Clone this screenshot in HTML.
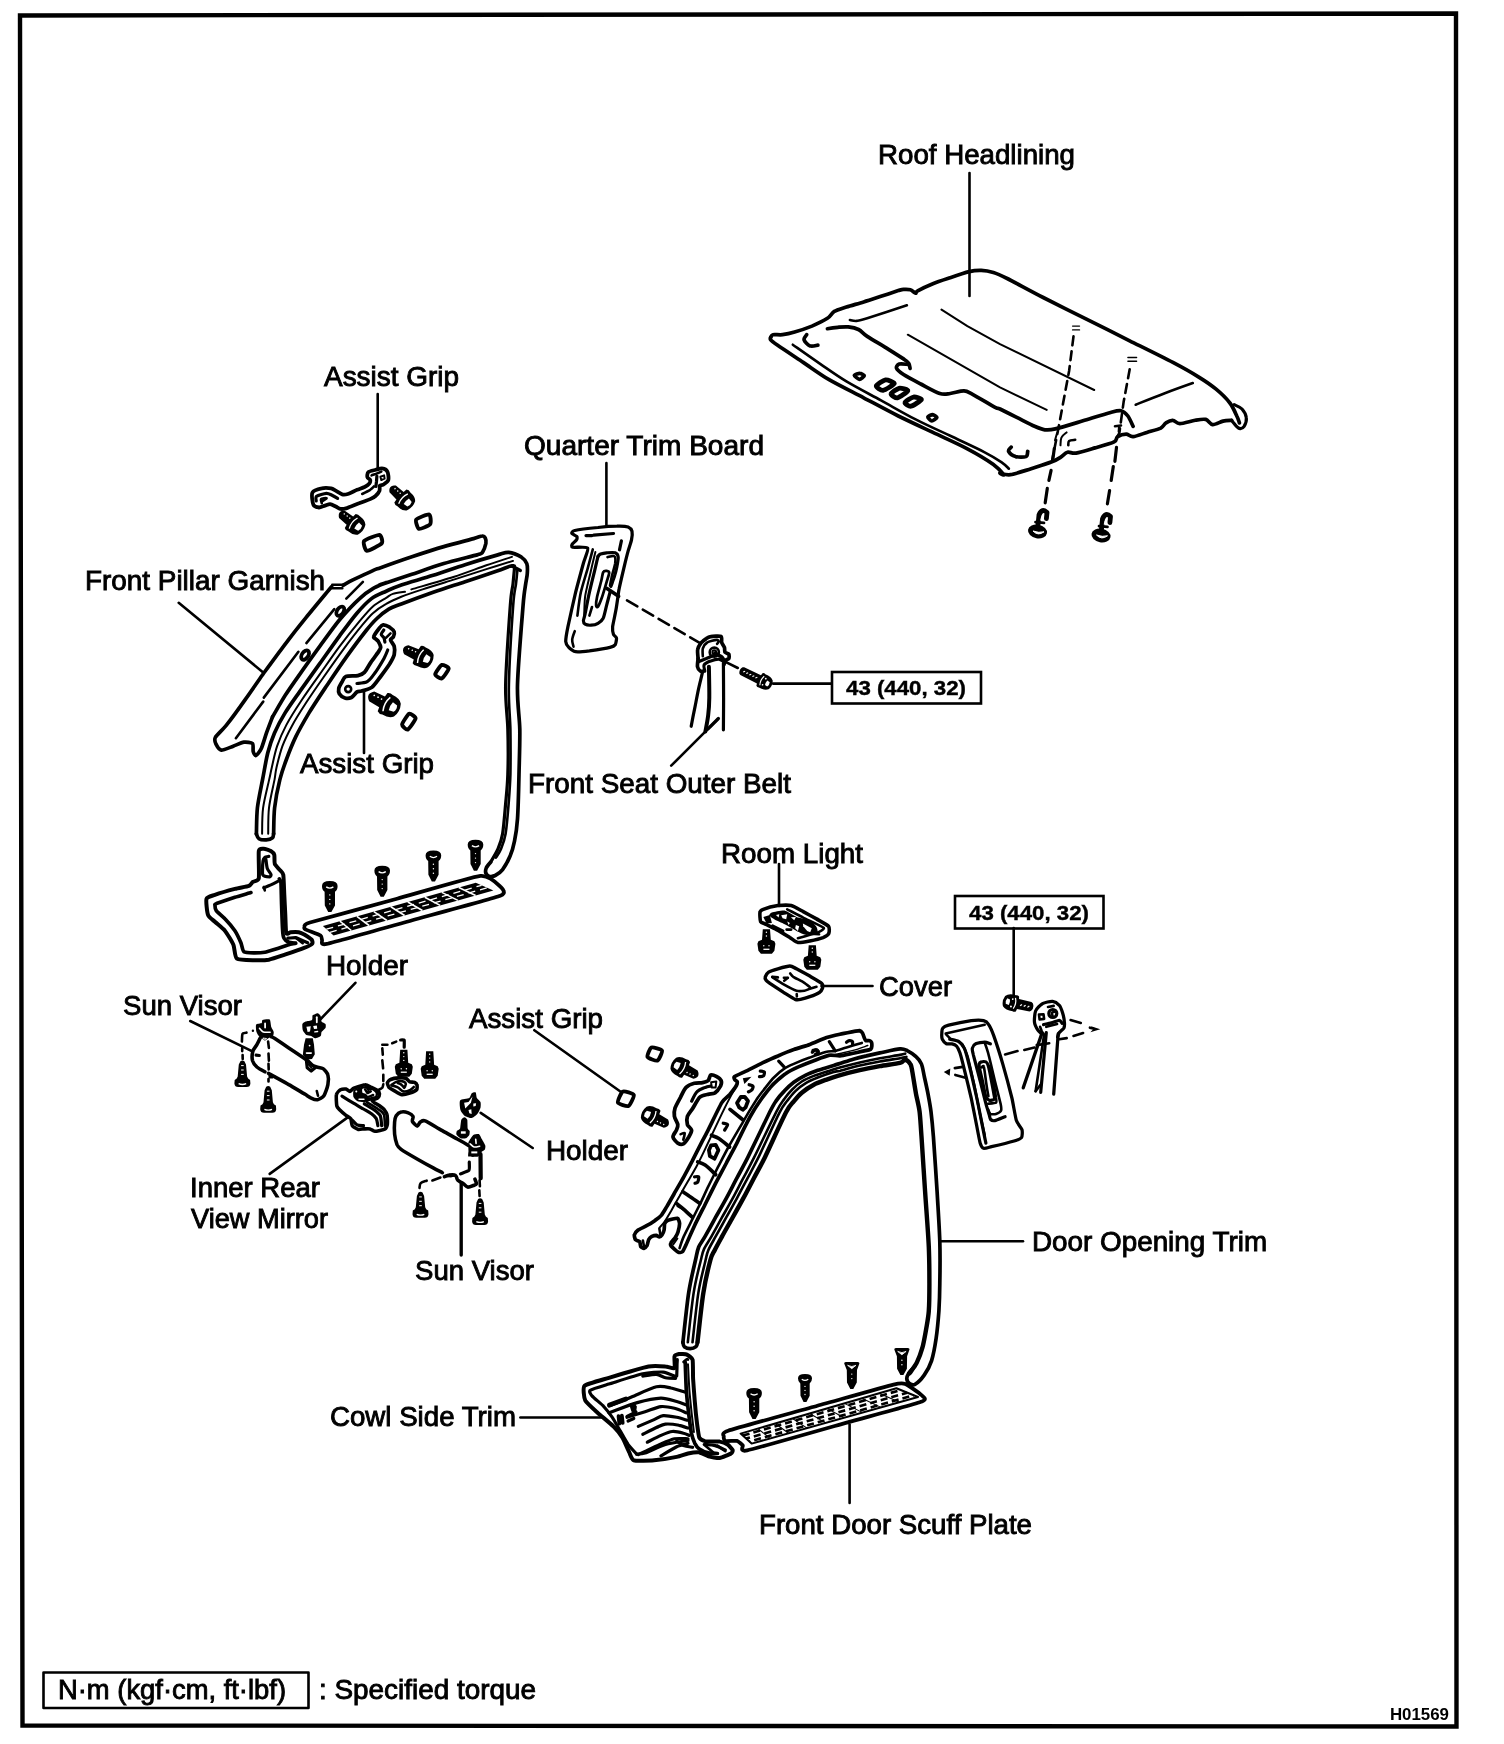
<!DOCTYPE html>
<html><head><meta charset="utf-8"><title>Interior trim components</title>
<style>
html,body{margin:0;padding:0;background:#fff;}
body{width:1504px;height:1744px;overflow:hidden;font-family:"Liberation Sans",sans-serif;}
svg{display:block;filter:grayscale(1);}
text{font-family:"Liberation Sans",sans-serif;fill:#000;}
.t{font-size:27.5px;stroke:#000;stroke-width:0.9px;paint-order:stroke;}
.b{font-weight:bold;font-size:20px;stroke:#000;stroke-width:0.4px;}
.k{fill:none;stroke:#000;stroke-linecap:round;stroke-linejoin:round;}
.k4{stroke-width:4.4;} .k3{stroke-width:3.7;} .k25{stroke-width:3.2;} .k2{stroke-width:2.6;} .k15{stroke-width:2.0;} .k1{stroke-width:1.4;}
.f{fill:#000;stroke:none;}
.w{fill:#fff;}
</style></head><body>
<svg width="1504" height="1744" viewBox="0 0 1504 1744">
<rect x="0" y="0" width="1504" height="1744" fill="#fff"/>
<!-- 00_frame.svg -->
<g class="k">
<path class="k4" d="M20 15.5 L1456 13.5 L1456.5 1726.5 L22.5 1725.5 Z" stroke-linejoin="miter"/>
<rect class="k2" x="43.5" y="1672.5" width="265" height="35.5"/>
<rect class="k2" x="832" y="672" width="149" height="31.5" stroke-linejoin="miter"/>
<rect class="k2" x="955" y="896" width="148.5" height="32.5" stroke-linejoin="miter"/>
</g>

<!-- 01_text.svg -->
<g opacity="0.999">
<text class="t" x="878.0" y="164" textLength="197.0" lengthAdjust="spacingAndGlyphs">Roof Headlining</text>
<text class="t" x="324.0" y="386" textLength="135.0" lengthAdjust="spacingAndGlyphs">Assist Grip</text>
<text class="t" x="524.0" y="455" textLength="240.0" lengthAdjust="spacingAndGlyphs">Quarter Trim Board</text>
<text class="t" x="85.0" y="590" textLength="240.1" lengthAdjust="spacingAndGlyphs">Front Pillar Garnish</text>
<text class="t" x="300.0" y="772.5" textLength="134.0" lengthAdjust="spacingAndGlyphs">Assist Grip</text>
<text class="t" x="528.0" y="792.5" textLength="263.0" lengthAdjust="spacingAndGlyphs">Front Seat Outer Belt</text>
<text class="t" x="721.0" y="862.5" textLength="142.0" lengthAdjust="spacingAndGlyphs">Room Light</text>
<text class="t" x="879.0" y="995.5" textLength="73.0" lengthAdjust="spacingAndGlyphs">Cover</text>
<text class="t" x="325.9" y="974.5" textLength="82.1" lengthAdjust="spacingAndGlyphs">Holder</text>
<text class="t" x="123.0" y="1014.5" textLength="119.0" lengthAdjust="spacingAndGlyphs">Sun Visor</text>
<text class="t" x="469.0" y="1027.5" textLength="134.0" lengthAdjust="spacingAndGlyphs">Assist Grip</text>
<text class="t" x="545.9" y="1160" textLength="82.1" lengthAdjust="spacingAndGlyphs">Holder</text>
<text class="t" x="190.0" y="1196.5" textLength="130.0" lengthAdjust="spacingAndGlyphs">Inner Rear</text>
<text class="t" x="191.0" y="1227.5" textLength="137.0" lengthAdjust="spacingAndGlyphs">View Mirror</text>
<text class="t" x="415.0" y="1279.5" textLength="119.0" lengthAdjust="spacingAndGlyphs">Sun Visor</text>
<text class="t" x="1032.0" y="1250.5" textLength="235.1" lengthAdjust="spacingAndGlyphs">Door Opening Trim</text>
<text class="t" x="330.0" y="1425.5" textLength="186.0" lengthAdjust="spacingAndGlyphs">Cowl Side Trim</text>
<text class="t" x="759.0" y="1533.5" textLength="273.0" lengthAdjust="spacingAndGlyphs">Front Door Scuff Plate</text>
<text class="t" x="58.0" y="1698.5" textLength="228.0" lengthAdjust="spacingAndGlyphs">N·m (kgf·cm, ft·lbf)</text>
<text class="t" x="319.0" y="1698.5" textLength="217.0" lengthAdjust="spacingAndGlyphs">: Specified torque</text>
<text class="b" x="846.0" y="695" textLength="120.0" lengthAdjust="spacingAndGlyphs">43 (440, 32)</text>
<text class="b" x="969.0" y="919.5" textLength="120.0" lengthAdjust="spacingAndGlyphs">43 (440, 32)</text>
<text x="1389.9" y="1719.5" font-size="16" font-weight="bold" textLength="59.1" lengthAdjust="spacingAndGlyphs">H01569</text>
</g>

<!-- 02_leaders.svg -->
<g class="k k2">
<path d="M969.5 173 V296"/>
<path d="M377.7 394 V468"/>
<path d="M606.4 463 V526"/>
<path d="M178.7 602.8 L263.5 672.7"/>
<path d="M364 692 V753"/>
<path d="M671.2 765.7 L717.8 719.2"/>
<path d="M773 683.6 H831.4"/>
<path d="M779 864 V906"/>
<path d="M821.5 986 H872.5"/>
<path d="M1013.7 928 V995"/>
<path d="M355.4 982.8 L320.2 1019.5"/>
<path d="M190.2 1021 L252.9 1051.6"/>
<path d="M269.7 1173.9 L347.7 1117.4"/>
<path d="M461.2 1184 V1255" stroke-width="3.36"/>
<path d="M480.7 1112.8 L532.7 1148"/>
<path d="M534.3 1030.2 L621.4 1092.2"/>
<path d="M940 1241.2 H1023"/>
<path d="M520.4 1417.5 H601"/>
<path d="M849.6 1424.5 V1503"/>
</g>

<!-- 10_roof.svg -->
<g>
<path class="k k3" d="M770.7 337.3 C771.1 336.9 771.2 335.1 773 334.7 C774.7 334.3 779.2 335.1 782.5 334.7 C785.7 334.3 790.2 333.4 794.6 332.1 C799 330.8 806.9 328.1 811.9 326.1 C816.8 324 824 320.5 827.4 318.3 C830.8 316.1 831.5 313.1 834.3 311.4 C837.2 309.7 842 308.5 846.4 307 C850.8 305.6 858.5 303.5 863.7 301.9 C868.9 300.3 875.8 298 881 296.3 C886.2 294.6 894.9 291.7 898.3 290.6 C901.7 289.6 901.7 289.5 903.5 289.4 C905.3 289.3 908.6 289.2 910.4 289.8 C912.2 290.3 914.5 293.1 915.6 293.2 C916.7 293.4 915.1 292.2 917.7 290.8 C920.3 289.4 928 285.7 932.9 283.7 C937.7 281.7 944.7 279.5 950.2 277.7 C955.6 275.8 964.5 272.7 969.2 271.6 C973.8 270.5 977.6 270.3 981.3 270.4 C984.9 270.5 989.5 271.3 993.4 272.5 C997.3 273.7 999.7 274.8 1007.2 278.5 C1014.7 282.3 1031.3 291.4 1043.2 297.5 C1055.1 303.6 1073.5 312.7 1086.4 319.1 C1099.4 325.6 1116.7 334.3 1129.7 340.8 C1142.6 347.2 1162.5 356.9 1172.9 362.4 C1183.2 367.8 1192.3 373 1198.8 377.1 C1205.3 381.1 1211.4 385.3 1216.1 389.2 C1220.8 393.1 1226.8 399 1229.9 403 C1233 407 1235.4 413 1236.8 416 C1238.3 418.9 1239 421.8 1239.4 422.9" />
<path class="k k25" d="M1234.2 404.7 C1235.5 405.4 1240 406.9 1242 409 C1244 411.2 1246 414.8 1246.3 417.7 C1246.7 420.6 1245.2 424.5 1244.1 426.3 C1242.9 428.1 1241.1 428.8 1239.4 428.4 C1237.8 428 1235.5 425.1 1234.2 423.7 C1232.9 422.4 1232.1 420.9 1231.6 420.3" />
<path class="k k3" d="M1231.6 420.3 C1230.4 420.4 1225.9 420.5 1223 421.1 C1220.2 421.8 1215.2 424.9 1212.6 424.6 C1210 424.3 1208.3 420.1 1205.7 419.4 C1203.1 418.8 1199.2 419.6 1195.3 420.3 C1191.5 420.9 1183.2 423.7 1179.8 423.7 C1176.4 423.7 1174.9 420.4 1172.9 420.3 C1170.8 420.1 1167.8 421.7 1166 422.9 C1164.1 424 1163.6 426.6 1160.8 428.1 C1157.9 429.5 1151.1 431.1 1146.9 432.4 C1142.8 433.7 1136.2 436.4 1133.1 436.7 C1130 437 1128.5 434.1 1126.2 434.1 C1123.9 434.1 1119.4 435.5 1117.6 436.7 C1115.7 437.9 1117.5 440.2 1114.1 441.9 C1110.7 443.6 1100.8 446.3 1095.1 447.9 C1089.4 449.6 1080.2 452.5 1076.1 453.1 C1071.9 453.8 1069.8 451.6 1067.4 452.3 C1065.1 452.9 1062.8 456 1060.5 457.4 C1058.2 458.9 1056.3 460.1 1051.9 461.8 C1047.5 463.5 1037.3 466.7 1031.1 468.7 C1024.9 470.6 1015 474.1 1010.4 474.7 C1005.7 475.4 1001 473 1000 473 C999 473 1004.7 476 1003.8 474.7 C1002.8 473.4 998.8 468.3 993.4 464.4 C987.9 460.5 976.5 453.6 967.4 448.8 C958.4 444 943.2 437.3 932.9 432.4 C922.5 427.5 908.7 421.1 898.3 416 C887.9 410.8 874.1 403.3 863.7 397.8 C853.4 392.4 838.2 385 829.1 379.7 C820.1 374.3 811 367.6 803.2 362.4 C795.4 357.2 782.2 348.5 777.3 345.1 C772.4 341.7 771.7 341.1 770.7 339.9 C769.7 338.7 770.7 337.7 770.7 337.3" />
<path class="k k2" d="M792.8 344.7 C797.5 348 811.6 358 820.5 364.1 C829.4 370.2 836.4 375.3 846.4 381.4 C856.5 387.4 869.5 394.1 881 400.4 C892.5 406.7 904.1 413.5 915.6 419.4 C927.1 425.3 938.6 430.4 950.2 435.8 C961.7 441.3 976.1 447.8 984.7 452.3 C993.4 456.7 998 459.9 1002 462.6 C1006.1 465.4 1007.8 467.7 1008.9 468.7" />
<path class="k k3" d="M806.7 334.7 C806.2 335.6 803.5 338 804.1 339.9 C804.7 341.8 807.8 345.1 810.1 345.9 C812.4 346.8 816.6 345.2 817.9 345.1" />
<path class="k k3" d="M1011.2 447.1 C1010.8 447.8 1007.9 449.8 1008.6 451.4 C1009.4 453 1012.7 455.7 1015.6 456.6 C1018.4 457.4 1023.9 457.4 1025.9 456.6 C1027.9 455.7 1027.4 452.3 1027.7 451.4" />
<path class="k k3" d="M827.4 328.7 C829.1 328.4 834.3 327.6 837.8 327.3 C841.2 327 844.7 326.6 848.2 326.9 C851.6 327.3 855.4 327.9 858.5 329.5 C861.7 331.1 862.9 333.6 867.2 336.4 C871.5 339.3 878.4 343.1 884.5 346.8 C890.5 350.6 899.5 356.2 903.5 358.9 C907.5 361.6 907.6 361.6 908.7 363.2 C909.8 364.8 909.8 367.6 910.1 368.4" />
<path class="k k3" d="M908.7 364.4 C907.2 364.4 901 363.5 899.2 364.1 C897.3 364.7 895.9 366.9 896.6 368.4 C897.2 370 899.9 372.1 903.5 374.5 C907.1 376.8 915.3 381.1 920.8 384 C926.2 386.8 935.4 392.1 939.8 393.5 C944.2 394.9 946.5 393.9 950.2 393.5 C953.8 393.1 960.6 390.8 964 390.9 C967.4 391 968 391.9 972.6 394.3 C977.3 396.8 991 405.1 995.1 407.3 C999.2 409.5 996.7 407.5 1000 409 C1003.3 410.6 1012.1 415.1 1017.3 417.7 C1022.5 420.3 1030.4 424.5 1034.6 426.3 C1038.7 428.1 1041.8 429.4 1044.9 429.8 C1048.1 430.2 1049.6 430.3 1055.3 428.9 C1061 427.6 1074.7 423.3 1083 420.8 C1091.3 418.3 1104.9 414 1110.6 412.5 C1116.3 411 1118.4 410.3 1121 410.8 C1123.6 411.3 1126.1 413.6 1127.9 416 C1129.7 418.3 1132.3 424.8 1133.1 426.3" />
<path class="k k2" d="M849.9 320 C851 320.2 853.9 321.2 856.8 320.9 C859.7 320.6 858.8 320.9 867.2 318.3 C875.5 315.7 900.3 307.5 906.9 305.3" />
<path class="k k15" d="M941.5 309.6 L967.4 326.1 L1000 344.2 L1094.2 390" />
<path class="k k15" d="M907.8 334.7 L950.2 358.9 L1000 387.4 L1046.7 409.9" />
<path class="k k2" d="M1135.7 404.7 C1140.5 402.8 1154.7 397.1 1164.2 393.5 C1173.7 389.9 1188 384.8 1192.8 383.1" />
<path class="k k" d="M876.3 385.9 C876.6 384.7 883.4 380.2 885.5 379.9 C887.6 379.6 894.5 382.3 894.3 383.5 C894 384.7 885.2 390 883.1 390.3 C881 390.6 876 387.1 876.3 385.9 Z" stroke-width="4.83"/>
<path class="k k" d="M891.1 393.9 C891.2 392.8 897.1 388.7 899 388.3 C901 387.9 908 389.6 907.8 390.7 C907.6 391.8 899.4 397.5 897.4 397.9 C895.5 398.2 890.9 395 891.1 393.9 Z" stroke-width="4.83"/>
<path class="k k" d="M905 402.7 C905.3 401.6 911.5 397.4 913.4 397.1 C915.3 396.7 921.7 398.4 921.4 399.5 C921.1 400.5 912.9 405.9 911 406.2 C909.1 406.6 904.7 403.7 905 402.7 Z" stroke-width="4.83"/>
<path class="k k3" d="M854.4 375.4 C854.4 374.7 858.8 373.3 859.9 373.4 C861.1 373.4 864.4 375 864.3 375.7 C864.3 376.4 860.7 379.4 859.5 379.4 C858.4 379.3 854.3 376.1 854.4 375.4 Z" />
<path class="k k3" d="M927.8 417 C927.9 416.3 931.5 414.6 932.6 414.6 C933.6 414.7 937 416.7 936.9 417.4 C936.8 418.2 932.8 421.1 931.8 421 C930.7 421 927.7 417.8 927.8 417 Z" />
<path class="k k2" d="M1073.5 336.4 L1069.1 371 L1058.8 426.3 L1051.9 461.8" stroke-dasharray="9 6"/>
<path class="k k2" d="M1129.7 369.3 L1123.6 402.1 L1119.3 433.2 L1114.1 441.9" stroke-dasharray="9 6"/>
<path class="k k25" d="M1054.3 448.5 L1052.7 460.2" />
<path class="k k25" d="M1051.1 470.3 L1048.9 480.4" />
<path class="k k25" d="M1047.3 488.4 L1045.2 502.8" />
<path class="k k25" d="M1116.5 447.4 L1114.9 461.3" />
<path class="k k25" d="M1113.3 466.6 L1111.2 480.4" />
<path class="k k25" d="M1109.6 490.5 L1107.4 503.8" />
<path class="k k1" d="M1072.6 326.1 L1079.5 326.1 M1072.6 329.9 L1079.5 329.9" />
<path class="k k1" d="M1127.9 357.5 L1136.6 357.5 M1127.9 361.3 L1136.6 361.3" />
<path class="k k15" d="M1066.6 432.4 C1065.7 433.2 1062.4 435.4 1061.4 437.6 C1060.4 439.7 1060.6 444 1060.5 445.3" />
<path class="k k15" d="M1057 433.2 L1055 440.2" />
<path class="k k2" d="M1068.3 445.3 C1068.4 444.6 1068 441.9 1069.1 441 C1070.3 440.1 1074.2 440 1075.2 439.8" />
<path class="k k2" d="M1115 426.3 L1121 425.5 M1119.3 426.3 L1118.9 431.5" />
<ellipse cx="1037.5" cy="531.5" rx="9.6" ry="6.8" class="f" transform="rotate(10 1037.5 531.5)"/><path d="M1033 531 q5 5.4 11 0.8 q-5 1.4 -11 -0.8z" fill="#fff" stroke="#fff" stroke-width="1"/><path class="k" stroke-width="4.83" d="M1038 525 l1 -10 q3 -7.5 8 -2.5 l-0.6 6"/><path class="k" stroke-width="2.73" d="M1035.5 522.2 l8.5 0.6"/><path d="M1040.7 520.5 q0.5 -4 3 -5.5" fill="none" stroke="#fff" stroke-width="1.1"/>
<ellipse cx="1101" cy="535.5" rx="9.6" ry="6.8" class="f" transform="rotate(10 1101 535.5)"/><path d="M1096.5 535 q5 5.4 11 0.8 q-5 1.4 -11 -0.8z" fill="#fff" stroke="#fff" stroke-width="1"/><path class="k" stroke-width="4.83" d="M1101.5 529 l1 -10 q3 -7.5 8 -2.5 l-0.6 6"/><path class="k" stroke-width="2.73" d="M1099 526.2 l8.5 0.6"/><path d="M1104.2 524.5 q0.5 -4 3 -5.5" fill="none" stroke="#fff" stroke-width="1.1"/>
</g>

<!-- 11_grip1.svg -->
<g>
<path class="k k" d="M368.3 472.1 C369.4 471.1 373.9 470.3 375.7 469.8 C377.6 469.3 380.7 468.1 382.3 468.4 C383.8 468.6 386.6 470.1 387.4 471.6 C388.2 473.2 388.9 478.3 388.3 480 C387.8 481.8 384.3 483.9 383.2 484.7 C382.1 485.4 380.4 484.8 379.9 485.6 C379.4 486.4 380 489.4 379.5 490.7 C378.9 492.1 377 494.7 375.7 495.8 C374.5 497 372.4 498.1 370.2 499.1 C367.9 500.1 362.2 502 359 503.3 C355.8 504.5 348.4 507.7 346 508.4 C343.5 509.1 341.7 509.1 340.4 508.9 C339 508.6 337.1 507.2 335.7 506.5 C334.4 505.9 331.6 504.3 330.1 504.2 C328.7 504.1 326.5 505.2 325 505.6 C323.5 506 320.5 507.6 319 507.5 C317.4 507.3 314.2 506.7 313.4 504.7 C312.5 502.7 311.3 494.8 312.4 492.6 C313.6 490.4 319.3 488.9 321.8 488.4 C324.2 487.8 329.2 488.1 331.1 488.4 C332.9 488.7 334.2 489.9 335.7 490.7 C337.2 491.5 340.6 494 342.2 494.4 C343.8 494.9 345.8 494.6 347.8 494 C349.8 493.4 354.9 490.7 357.1 489.8 C359.4 488.9 363 487.8 364.6 487 C366.2 486.2 368.5 484.7 369.2 483.7 C370 482.8 370.4 480.9 370.2 480 C369.9 479.1 367.6 478.3 367.4 477.2 C367.1 476.2 367.2 473.1 368.3 472.1 Z" stroke-width="3.78"/>
<path class="k k25" d="M316.2 501 C316.2 500.3 315.3 497.3 316.6 496.3 C318 495.3 324.4 493.5 326.4 493.3 C328.5 493.2 330.5 494.5 332 495.2 C333.5 495.9 336.8 497.9 337.6 498.4" />
<path class="k k2" d="M321.8 503.3 C321.7 502.7 320.4 499.8 321 499.1 C321.7 498.4 326.4 497.9 326.6 498.2 C326.8 498.4 323.2 500.6 322.7 501" />
<path class="k k2" d="M362.2 494 C363.6 493.3 368.2 491 370.2 489.8 C372.1 488.5 373.3 487.1 373.9 486.5" />
<path class="k k2" d="M371.6 475.4 C372.3 475.1 374.1 474.6 375.7 474 C377.4 473.3 380.4 472 381.3 471.6" />
<path class="k k25" d="M376.9 476.3 C376.8 477.1 376.6 479.7 376.5 481.4 C376.3 483.1 376 485.7 375.9 486.5" />
<path class="k k15" d="M380.4 476.8 L384.1 475.4 L384.6 478.6 L381.3 480 Z" />
<g transform="translate(391.6 487.9) rotate(43) scale(1.2)"><path class="f" d="M0 -2.8 Q-2.6 0 0 2.8 L1.2 3.9 L9.6 4.4 L10 7.4 Q11.8 8.8 14 7.9 Q19.5 8.2 22 5.2 Q24.4 0 22 -5.2 Q19.5 -8.2 14 -7.9 Q11.8 -8.8 10 -7.4 L9.6 -4.4 L1.2 -3.9 Z"/><path d="M13.3 -5.6 Q11 0 13.3 5.6" fill="none" stroke="#fff" stroke-width="1.1"/><path d="M16.6 -3.4 L20.3 -2.8 Q21.6 0 20.2 2.4 L16.6 3 Q15.6 0 16.6 -3.4Z" fill="#fff"/><circle cx="2.5" cy="-1.5" r="0.6" fill="#fff"/><circle cx="5.5" cy="-1.6" r="0.6" fill="#fff"/><circle cx="8.3" cy="-1.6" r="0.6" fill="#fff"/></g>
<g transform="translate(340.8 513.5) rotate(38) scale(1.2)"><path class="f" d="M0 -2.8 Q-2.6 0 0 2.8 L1.2 3.9 L9.6 4.4 L10 7.4 Q11.8 8.8 14 7.9 Q19.5 8.2 22 5.2 Q24.4 0 22 -5.2 Q19.5 -8.2 14 -7.9 Q11.8 -8.8 10 -7.4 L9.6 -4.4 L1.2 -3.9 Z"/><path d="M13.3 -5.6 Q11 0 13.3 5.6" fill="none" stroke="#fff" stroke-width="1.1"/><path d="M16.6 -3.4 L20.3 -2.8 Q21.6 0 20.2 2.4 L16.6 3 Q15.6 0 16.6 -3.4Z" fill="#fff"/><circle cx="2.5" cy="-1.5" r="0.6" fill="#fff"/><circle cx="5.5" cy="-1.6" r="0.6" fill="#fff"/><circle cx="8.3" cy="-1.6" r="0.6" fill="#fff"/></g>
<path class="k k" d="M416.2 519.6 C417.3 518.1 427.9 514 429.3 514.5 C430.7 514.9 431.2 522.8 430.2 524.2 C429.2 525.7 420.4 529.3 419 528.9 C417.6 528.4 415.2 521 416.2 519.6 Z" stroke-width="3.89"/>
<path class="k k" d="M364.1 541 C365.4 539.4 377.7 534.7 379.5 534.9 C381.2 535.2 383.1 541.7 381.8 543.3 C380.5 544.9 368.7 551 366.9 550.8 C365.1 550.5 362.9 542.6 364.1 541 Z" stroke-width="3.89"/>
</g>

<!-- 12_door1.svg -->
<g>
<path class="k k3" d="M256.4 833.8 C256.6 829.9 256.5 816 257.4 807.9 C258.3 799.9 260.9 788.2 262.5 779.9 C264.1 771.7 266 759.9 267.8 752.8 C269.6 745.8 271.9 738.9 274.5 732.9 C277.1 726.9 281.3 719.1 285.1 712.9 C288.9 706.7 294.5 699 299.7 691.6 C304.9 684.3 313.7 672.1 319.7 663.7 C325.7 655.3 334 643.4 339.6 635.8 C345.2 628.2 352.1 618.8 356.9 613.2 C361.7 607.6 367.2 601.9 371.5 598.6 C375.9 595.3 381.7 593.3 386.2 591.2 C390.6 589.2 394.2 587.3 401.3 584.9 C408.3 582.5 423.6 578.4 433.2 575.3 C442.8 572.3 455.5 567.7 465.1 564.7 C474.7 561.6 490.5 556.9 497 555.1 C503.6 553.3 505.1 552.1 508.7 552.4 C512.4 552.8 518.8 555.6 521.5 557.2 C524.2 558.9 525.9 561.2 526.8 563.6 C527.7 566 527.5 570.2 527.3 573.2 C527.2 576.2 526.4 579 525.7 583.8 C525.1 588.6 524.3 590 523.1 605.1 C521.9 620.2 518 666.1 517.5 684.7 C517 703.4 519.5 716 519.8 729.4 C520 742.9 519.3 760.7 519 774.2 C518.7 787.6 518.2 808.8 517.5 818.9 C516.8 828.9 515.7 835.7 514.5 841.2 C513.4 846.8 511.9 851.9 510.1 856.1 C508.3 860.4 504.8 866.7 502.6 869.6 C500.4 872.5 497.2 874.5 495.2 875.5 C493.1 876.5 490.6 876.6 489.2 876.3 C487.8 875.9 486.4 874.5 485.9 873.3 C485.5 872.1 485.5 869.8 486.2 868.1 C486.9 866.4 490 863 490.7 862.1" />
<path class="k k3" d="M273.6 833.8 C273.8 829.9 273.7 816 274.6 807.9 C275.5 799.9 278 787.2 279.8 779.9 C281.6 772.7 284 765.9 286.4 759.5 C288.8 753 292.4 743.8 295.7 736.9 C299.1 729.9 304.5 720.5 309 712.9 C313.6 705.3 320.7 694.7 326.3 686.3 C331.9 678 340.3 665.5 346.3 657.1 C352.3 648.7 361.6 636.3 366.2 630.5 C370.8 624.7 373.5 621.7 376.9 618.5 C380.3 615.3 385.2 611.4 388.8 609.2 C392.5 607 394.6 606.6 401.3 604 C407.9 601.5 423.6 595.7 433.2 592.3 C442.8 589 455.5 584.9 465.1 581.7 C474.7 578.5 490.3 573.4 497 571.1 C503.7 568.8 507.2 567 509.8 566.3 C512.4 565.5 513.6 566 514.3 566" />
<path class="k k25" d="M511.9 566 L520.4 570.5" />
<path class="k k25" d="M514.6 567.3 C514.3 569.8 513.6 578.2 513 583.8 C512.3 589.5 511.4 590 510.3 605.1 C509.2 620.2 506 666.1 505.6 684.7 C505.2 703.4 507.5 716 507.8 729.4 C508.2 742.9 508.2 763 507.8 774.2 C507.5 785.3 506.4 795 505.6 804 C504.8 812.9 503.7 827.1 502.6 833.8 C501.5 840.5 499.9 844.4 498.1 848.7 C496.3 852.9 491.8 860.1 490.7 862.1" />
<path class="k k2" d="M517.4 570 C517.2 572.1 516.6 578.6 516 583.8 C515.3 589.1 514.3 590 513.2 605.1 C512.1 620.2 509.3 666.1 508.9 684.7 C508.4 703.4 510.1 716 510.4 729.4 C510.6 742.9 510.6 763 510.4 774.2 C510.1 785.3 509.3 795 508.6 804 C507.9 812.9 506.7 827.1 505.6 833.8 C504.5 840.5 502.6 845.1 501.1 848.7 C499.7 852.3 496.7 856.3 495.9 857.6" />
<path class="k k15" d="M262.1 833.8 C262.2 829.9 262 816 263.1 807.9 C264.1 799.9 267.8 786 269.1 779.9 C270.5 773.9 270.6 772.5 271.8 767.4 C273 762.4 274.9 752.6 277.1 746.2 C279.3 739.8 282.8 731.7 286.4 724.9 C290 718.1 296.1 708.5 301.1 701 C306.1 693.4 313.9 682.5 319.7 674.4 C325.5 666.2 333.6 654.4 339.6 646.4 C345.6 638.5 354.6 627.2 359.6 621.2 C364.6 615.2 368.9 610 372.9 606.5 C376.9 603.1 383.2 599.8 386.2 597.9 C389.2 596 389.9 594.8 392.8 593.9 C395.6 593 403.2 592.1 405 591.8" />
<path class="k k15" d="M411.4 589.4 C418.4 587.3 440.9 581 453.4 577 C465.9 573 476.6 568.7 486.4 565.3 C496.1 562 507.7 558.3 511.9 556.9" />
<path class="k k15" d="M268.2 833.8 C268.3 829.9 268 816 269 807.9 C269.9 799.9 273.3 786 274.5 779.9 C275.6 773.9 275.3 772.5 276.5 767.4 C277.7 762.4 280.2 752.4 282.4 746.2 C284.7 740 288.2 732.8 291.8 726.2 C295.3 719.6 301.6 709.7 306.4 702.3 C311.2 694.9 318.1 685 323.7 677 C329.3 669 337.8 656.9 343.6 649.1 C349.4 641.3 357.8 630.5 362.2 625.2 C366.6 619.8 369.3 616.4 372.9 613.2 C376.5 610 381.9 606.3 386.2 603.9 C390.4 601.4 395.8 599 401.3 596.8 C406.7 594.6 414.6 592 422.6 589.4 C430.5 586.7 444.9 582.4 454.5 579.4 C464 576.3 477.6 571.9 486.4 569.1 C495.2 566.4 509 562.1 513 560.9" />
<path class="k k3" d="M256.4 833.8 C256.8 834.6 257.2 837.7 258.9 838.7 C260.5 839.7 264 840 266.3 839.9 C268.5 839.8 271.2 839 272.4 837.9 C273.6 836.9 273.4 834.5 273.6 833.8" />
<path class="k k3" d="M272.5 716.9 C271.8 718.8 267.8 729.1 266.5 732.9 C265.2 736.6 262.4 746.2 261.2 748.8 C259.9 751.5 256.8 755.2 255.9 755.5 C254.9 755.8 253.6 752.9 253.2 751.5 C252.8 750.1 253.6 744.6 252.5 743.5 C251.4 742.4 246.1 741.9 243.9 742.2 C241.6 742.5 235.9 745.2 233.2 746.2 C230.6 747.1 223.3 750.4 221.3 750.2 C219.3 749.9 216.7 745.6 216 744.2 C215.3 742.7 214.1 739.8 215.3 737.5 C216.5 735.3 223.1 729.3 226.6 724.9 C230.1 720.5 240.9 705.7 245.2 699.6 C249.6 693.6 259.5 679.1 263.8 673 C268.2 667 277.5 654.3 282.4 647.8 C287.4 641.2 300.6 624.3 306.4 617.2 C312.1 610 328.7 590.2 331.6 586.6" />
<path class="k k2" d="M332.3 584.7 L344.3 584.7 M331 588.2 L342.3 588.2" />
<path class="k k3" d="M343 585.3 C344.3 584.6 348.9 581.9 352.9 579.9 C356.9 578 369.3 572.2 372.9 570.6 C376.5 569 374.8 569.7 380 567.9 C385.2 566 403.4 559.5 411.9 556.7 C420.4 553.9 435.6 549 443.8 546.6 C452.1 544.2 468.5 540 473.6 538.6 C478.7 537.2 480.6 536 482.1 536 C483.7 535.9 484.8 537.1 485.3 538.1 C485.8 539.1 486.2 541.6 485.9 543.4 C485.5 545.2 483.7 550.4 482.7 551.9 C481.6 553.4 483 553 477.9 554.6 C472.7 556.1 452.6 561 443.8 563.6 C435 566.2 420.4 571.4 411.9 574.3 C403.4 577.1 383.4 583.8 380 584.9 C376.6 586 387.1 582.1 386.2 582.6 C385.2 583.1 376.4 586.5 372.9 588.6 C369.3 590.7 364 594.4 359.6 598.6 C355.1 602.7 344.9 613.5 339.6 619.8 C334.3 626.2 325 639.2 319.7 646.4 C314.4 653.7 304.3 667.8 299.7 674.4 C295.1 680.9 288.7 690 285.1 695.6 C281.5 701.3 274.2 714.1 272.5 716.9" />
<path class="k k2" d="M235.9 738.2 L263.2 701.6" />
<path class="k k2" d="M263.8 697.6 L298.4 651.8" />
<path class="k k2" d="M306.4 643.1 L334.3 609.2" />
<path class="k k2" d="M346.3 598.6 L362.9 581.9" />
<ellipse cx="340.3" cy="611.2" rx="3.2" ry="5.2" class="k" stroke-width="3.78" transform="rotate(35 340.3 611.2)"/>
<ellipse cx="305.1" cy="655.1" rx="3.2" ry="5.2" class="k" stroke-width="3.78" transform="rotate(35 305.1 655.1)"/>
</g>

<!-- 13_grip2.svg -->
<g>
<path class="k k" d="M373.8 636.5 C374.2 635.1 378.1 629.7 379.3 628.2 C380.6 626.6 381.7 625 383.1 624.9 C384.4 624.8 388.1 626.3 389.6 627.2 C391.1 628.2 393.7 630.6 394.2 631.9 C394.7 633.2 393.8 635.9 393.3 637 C392.8 638 390.4 638.5 390.5 639.8 C390.6 641 393.7 644.3 394.2 646.3 C394.7 648.3 394.8 652.3 394.2 654.7 C393.6 657 391.4 661 389.6 664 C387.7 667 382.6 673.9 380.3 677 C377.9 680.1 374.4 685.4 371.9 687.3 C369.4 689.1 363.6 690.4 361.6 691 C359.7 691.6 358.4 691 357 691.9 C355.6 692.8 353 696.7 351.4 697.5 C349.8 698.3 346.5 698.5 344.9 698 C343.3 697.5 340.1 695.1 339.3 693.8 C338.5 692.5 338.5 689.8 338.8 688.2 C339.2 686.6 341.2 683.2 342.1 681.7 C343 680.1 343.7 677.4 345.8 676.6 C347.9 675.7 355.4 676.2 357.9 675.6 C360.4 675.1 362.7 674.2 364.4 672.4 C366.2 670.6 369.1 664.9 371 662.1 C372.8 659.4 377.1 653.9 378.4 651.9 C379.7 649.9 380.7 648.6 380.7 647.2 C380.7 645.9 379.1 642.8 378.4 641.6 C377.7 640.5 376.2 639.5 375.6 638.9 C375 638.2 373.3 638 373.8 636.5 Z" stroke-width="3.78"/>
<path class="k k25" d="M387.7 650 C387.2 651.3 385.9 654.9 384 658.4 C382 661.9 377.2 669.8 374.7 673.3 C372.2 676.8 369.9 680.1 367.2 681.7 C364.6 683.2 358.5 683.3 357 683.5" />
<path class="k k25" d="M383.8 630 C383.4 630.6 381.2 633 381.2 634.2 C381.2 635.4 383.4 636.7 384 637.9 C384.5 639.1 384.8 641.5 384.9 642.1" />
<path class="k k2" d="M385.9 637.9 L390.5 633.3" />
<circle cx="348.2" cy="689.1" r="3" class="k k2"/>
<g transform="translate(404.9 649.1) rotate(25) scale(1.3)"><path class="f" d="M0 -2.8 Q-2.6 0 0 2.8 L1.2 3.9 L9.6 4.4 L10 7.4 Q11.8 8.8 14 7.9 Q19.5 8.2 22 5.2 Q24.4 0 22 -5.2 Q19.5 -8.2 14 -7.9 Q11.8 -8.8 10 -7.4 L9.6 -4.4 L1.2 -3.9 Z"/><path d="M13.3 -5.6 Q11 0 13.3 5.6" fill="none" stroke="#fff" stroke-width="1.1"/><path d="M16.6 -3.4 L20.3 -2.8 Q21.6 0 20.2 2.4 L16.6 3 Q15.6 0 16.6 -3.4Z" fill="#fff"/><circle cx="2.5" cy="-1.5" r="0.6" fill="#fff"/><circle cx="5.5" cy="-1.6" r="0.6" fill="#fff"/><circle cx="8.3" cy="-1.6" r="0.6" fill="#fff"/></g>
<g transform="translate(370.2 695.6) rotate(28) scale(1.4)"><path class="f" d="M0 -2.8 Q-2.6 0 0 2.8 L1.2 3.9 L9.6 4.4 L10 7.4 Q11.8 8.8 14 7.9 Q19.5 8.2 22 5.2 Q24.4 0 22 -5.2 Q19.5 -8.2 14 -7.9 Q11.8 -8.8 10 -7.4 L9.6 -4.4 L1.2 -3.9 Z"/><path d="M13.3 -5.6 Q11 0 13.3 5.6" fill="none" stroke="#fff" stroke-width="1.1"/><path d="M16.6 -3.4 L20.3 -2.8 Q21.6 0 20.2 2.4 L16.6 3 Q15.6 0 16.6 -3.4Z" fill="#fff"/><circle cx="2.5" cy="-1.5" r="0.6" fill="#fff"/><circle cx="5.5" cy="-1.6" r="0.6" fill="#fff"/><circle cx="8.3" cy="-1.6" r="0.6" fill="#fff"/></g>
<path class="k k" d="M441.7 664.9 C443.1 664.4 448.7 667.3 448.7 668.6 C448.7 670 443.1 677.9 441.7 678.4 C440.4 679 435.2 675.6 435.2 674.2 C435.2 672.9 440.4 665.5 441.7 664.9 Z" stroke-width="3.89"/>
<path class="k k" d="M409.1 713.8 C410.5 713.2 415.8 716.9 415.6 718.4 C415.5 720 409.1 729 407.7 729.6 C406.4 730.2 402 726.1 402.1 724.5 C402.3 722.9 407.8 714.4 409.1 713.8 Z" stroke-width="3.89"/>
</g>

<!-- 14_cowl1.svg -->
<g>
<path class="k k" d="M258.8 851 C259.3 848 262.6 848.8 263.8 848.8 C265 848.8 269.8 850.3 270.8 851 C271.8 851.6 273.9 853.7 274.3 854.9 C274.7 856.2 274.2 862.4 274.8 863.9 C275.3 865.4 278.9 868.8 279.8 869.9 C280.6 871 282.8 872.4 283.3 874.9 C283.7 877.4 284.1 890.9 284.3 894.8 C284.5 898.8 285.1 910.9 285.3 914.8 C285.5 918.6 285.7 931.5 286.3 933.2 C286.8 935 289.5 932.3 290.7 932.2 C292 932.1 297.3 932 298.7 932.2 C300.1 932.5 303.4 934 304.7 934.7 C306 935.5 310.9 938.8 311.7 939.7 C312.4 940.6 312.9 942.9 312.2 943.7 C311.5 944.5 307.5 946.6 304.7 947.7 C302 948.8 288.4 953.5 284.8 954.7 C281.2 955.9 271.8 959.1 268.8 959.7 C265.8 960.2 258 960.3 254.8 960.2 C251.6 960.1 239 960.2 236.9 958.7 C234.7 957.1 234.6 947.5 233.4 944.7 C232.2 941.9 226.8 933 224.9 930.7 C223.1 928.5 216.6 923.4 214.9 921.8 C213.3 920.2 208.8 917.1 208 914.8 C207.1 912.5 205.8 900.8 206.5 898.8 C207.2 896.8 212.1 895.8 214.9 894.8 C217.8 893.8 231.5 889.8 234.9 888.9 C238.3 888 247.1 886.6 248.9 885.9 C250.7 885.2 251.8 882.6 252.8 881.9 C253.8 881.1 258.2 881.5 258.8 878.4 C259.4 875.3 258.3 853.9 258.8 851 Z" stroke-width="3.99"/>
<path class="k k3" d="M250.9 892.6 C249.3 893.1 238.3 896.2 234.9 897.3 C231.5 898.4 218.4 902.9 216.4 903.6 C214.4 904.4 214.9 904.1 214.9 904.8 C214.9 905.5 215.4 909.4 216.4 910.8 C217.4 912.2 223.1 916.8 224.9 918.8 C226.8 920.8 233.3 928.4 234.9 930.7 C236.5 933.1 240 940.6 240.9 942.7 C241.8 944.8 242.5 950.7 243.9 951.7 C245.3 952.7 252.7 952.8 254.8 952.9 C256.9 952.9 262.3 952.7 264.8 952.2 C267.3 951.7 277.4 948.4 279.8 947.7 C282.2 947 287.2 945.2 288.8 944.7 C290.3 944.3 295 943.4 295.7 943.2" />
<path class="k k3" d="M279.3 878.9 C279.5 879.3 280.7 879.8 281 882.9 C281.2 885.9 281.4 899.3 281.6 904.8 C281.8 910.3 282.3 925.8 282.6 929.7 C282.8 933.6 283.2 936.8 284 938.2 C284.7 939.7 287.5 941.6 288.8 942.2 C290 942.8 294 943.1 294.7 943.2" />
<path class="k k25" d="M268.8 856.4 C268.4 856.5 265.4 857 264.8 857.4 C264.2 857.9 263.2 859.2 263 860.9 C262.8 862.7 262.1 873.3 262.8 874.9 C263.5 876.5 269 876.9 269.8 876.9 C270.6 876.8 271.2 875.2 271 874.4 C270.7 873.5 267.8 869.9 267.3 868.4 C266.8 867 266.1 860.8 266 859.9" />
<path class="k k25" d="M263.8 887.9 C265 887.4 268.5 885.9 270.8 884.9 C273.1 883.8 276.6 882 277.8 881.4" />
<path class="k k2" d="M263.8 886.9 L264.8 890.4" />
<path class="k k25" d="M287.8 938.2 C288.6 938.2 294.4 937.6 295.7 937.7 C297 937.9 299.5 939.2 300.7 939.7 C301.9 940.2 307 942.4 307.7 942.7" />
<path class="k k2" d="M295.7 937.7 L302.7 943.2" />
</g>

<!-- 15_scuff1.svg -->
<g>
<g transform="translate(329.8 886.9) scale(1)"><path class="f" d="M-7.8 -1 Q-7.8 -5.8 0 -5.8 Q7.8 -5.8 7.8 -1 Q7.8 3.2 5.2 4.8 L5.2 18.5 L1.6 25.2 L-1.6 25.2 L-5 18.5 L-5.2 4.8 Q-7.8 3.2 -7.8 -1Z"/><path d="M-3.6 0 Q0 2.6 3.6 0" fill="none" stroke="#fff" stroke-width="1.3"/><circle cx="0" cy="8" r="0.7" fill="#fff"/><circle cx="0" cy="12.5" r="0.7" fill="#fff"/><circle cx="0" cy="17" r="0.7" fill="#fff"/></g>
<g transform="translate(382.2 871.6) scale(1)"><path class="f" d="M-7.8 -1 Q-7.8 -5.8 0 -5.8 Q7.8 -5.8 7.8 -1 Q7.8 3.2 5.2 4.8 L5.2 18.5 L1.6 25.2 L-1.6 25.2 L-5 18.5 L-5.2 4.8 Q-7.8 3.2 -7.8 -1Z"/><path d="M-3.6 0 Q0 2.6 3.6 0" fill="none" stroke="#fff" stroke-width="1.3"/><circle cx="0" cy="8" r="0.7" fill="#fff"/><circle cx="0" cy="12.5" r="0.7" fill="#fff"/><circle cx="0" cy="17" r="0.7" fill="#fff"/></g>
<g transform="translate(433.4 856.3) scale(1)"><path class="f" d="M-7.8 -1 Q-7.8 -5.8 0 -5.8 Q7.8 -5.8 7.8 -1 Q7.8 3.2 5.2 4.8 L5.2 18.5 L1.6 25.2 L-1.6 25.2 L-5 18.5 L-5.2 4.8 Q-7.8 3.2 -7.8 -1Z"/><path d="M-3.6 0 Q0 2.6 3.6 0" fill="none" stroke="#fff" stroke-width="1.3"/><circle cx="0" cy="8" r="0.7" fill="#fff"/><circle cx="0" cy="12.5" r="0.7" fill="#fff"/><circle cx="0" cy="17" r="0.7" fill="#fff"/></g>
<g transform="translate(475.5 845.6) scale(1)"><path class="f" d="M-7.8 -1 Q-7.8 -5.8 0 -5.8 Q7.8 -5.8 7.8 -1 Q7.8 3.2 5.2 4.8 L5.2 18.5 L1.6 25.2 L-1.6 25.2 L-5 18.5 L-5.2 4.8 Q-7.8 3.2 -7.8 -1Z"/><path d="M-3.6 0 Q0 2.6 3.6 0" fill="none" stroke="#fff" stroke-width="1.3"/><circle cx="0" cy="8" r="0.7" fill="#fff"/><circle cx="0" cy="12.5" r="0.7" fill="#fff"/><circle cx="0" cy="17" r="0.7" fill="#fff"/></g>
<path class="k k" d="M304.5 927.1 C304.9 926.5 302.2 924.9 309.9 922.5 C317.6 920.2 382.8 902.7 397 898.8 C411.3 894.9 471.8 876.9 480.4 875.9 C489 874.9 498.6 884.9 500.3 886.6 C501.9 888.2 507.6 893 500.3 895.8 C492.9 898.6 426.8 916.2 412.3 920.2 C397.9 924.2 334.2 942.3 326.7 943.9 C319.2 945.6 322.6 940.8 322.1 940.1 C321.6 939.4 322 936.4 320.6 935.5 C319.2 934.6 306.6 930.1 305.3 929.4 C304 928.7 304.1 927.7 304.5 927.1 Z" stroke-width="3.78"/>
<path class="f" d="M322.9 926 L475.8 882.8 L493.4 890.4 L333.6 935.5 Z"/>
<path d="M339.9 921.2 L351.3 930.5" stroke="#fff" stroke-width="1.6" fill="none"/>
<path d="M356.9 916.4 L369.1 925.5" stroke="#fff" stroke-width="1.6" fill="none"/>
<path d="M373.9 911.6 L386.9 920.5" stroke="#fff" stroke-width="1.6" fill="none"/>
<path d="M390.8 906.8 L404.6 915.5" stroke="#fff" stroke-width="1.6" fill="none"/>
<path d="M407.8 902 L422.4 910.5" stroke="#fff" stroke-width="1.6" fill="none"/>
<path d="M424.8 897.2 L440.1 905.4" stroke="#fff" stroke-width="1.6" fill="none"/>
<path d="M441.8 892.4 L457.9 900.4" stroke="#fff" stroke-width="1.6" fill="none"/>
<path d="M458.8 887.6 L475.6 895.4" stroke="#fff" stroke-width="1.6" fill="none"/>
<path d="M326.4 929.2 L481.6 885.3" stroke="#fff" stroke-width="1.3" fill="none" stroke-dasharray="7 5"/>
<path d="M329.9 932.3 L487.4 887.8" stroke="#fff" stroke-width="1.3" fill="none" stroke-dasharray="7 5"/>
</g>

<!-- 16_quarter1.svg -->
<g>
<path class="k k" d="M571.8 533.5 C571.6 532.9 572.2 531.1 574.8 530.5 C577.4 529.9 593.8 527.9 598 527.5 C602.2 527 613.9 526.2 616.9 526.2 C619.9 526.1 626.6 526.5 628.1 527 C629.6 527.6 631.6 530 632 531.3 C632.3 532.6 631.9 538 631.5 539.9 C631.1 541.9 628.9 548.3 628.1 551.1 C627.3 554 624.7 564.5 623.8 568.3 C622.9 572.1 619.6 586.3 619.1 588.9 C618.5 591.6 618.5 592.9 618.2 595 C617.9 597 616.6 606.4 616 609.6 C615.5 612.8 612.9 624.3 612.6 626.8 C612.4 629.3 613.1 633.4 613.5 634.5 C613.9 635.6 616.3 636.9 616.5 638 C616.7 639 615.8 643.9 615.2 644.8 C614.5 645.8 612.6 646.8 610 647.4 C607.5 648 592.8 650.4 589.4 650.9 C586 651.3 577.7 652.1 575.6 651.7 C573.6 651.4 569.7 648.4 568.8 647.4 C567.8 646.4 565.8 643.5 565.7 641.4 C565.7 639.3 566.9 631.7 567.9 626.8 C568.9 621.9 574.1 598.7 575.6 592.4 C577.2 586 582.2 567.6 583.4 563.2 C584.6 558.7 588.7 549.7 587.7 548.1 C586.6 546.5 574.2 547.6 572.6 547.2 C571.1 546.9 571.8 545 572.2 544.2 C572.6 543.5 576 540.7 576.5 539.9 C577 539.2 577.4 537.1 576.9 536.5 C576.5 535.9 572 534.1 571.8 533.5 Z" stroke-width="3.26"/>
<path class="k k2" d="M592.8 549.4 C592.1 551.9 589.3 562.6 587.7 568.3 C586.1 574 582.2 586.1 580.8 592.4 C579.4 598.7 577.8 612.5 577.4 615.6" />
<path class="k k15" d="M595.4 552 C594.7 554.8 591.6 567.5 590.3 573.5 C588.9 579.4 585.9 590.7 585.1 596.7 C584.3 602.6 584.3 615.3 584.2 618.2" />
<path class="k k25" d="M598 556.3 C598.3 556 599.4 554.6 600.6 554.1 C601.7 553.7 604.6 553 606.6 552.8 C608.5 552.7 613.6 552.3 615.2 552.8 C616.7 553.4 618 555.3 618.2 557.1 C618.4 559 617.4 564 616.9 566.6 C616.4 569.2 615.1 574.3 614.3 576.9 C613.5 579.5 611.3 585.1 610.9 586.4" />
<path class="k k25" d="M598 556.3 C597.5 558.2 595.7 566.1 594.6 570.9 C593.4 575.7 590.7 586.7 589.4 592.4 C588.1 598.1 585.9 610.1 585.1 613.9 C584.3 617.7 583.4 619.4 583.4 620.8 C583.4 622.1 584.1 623.6 585.1 624.2 C586.1 624.8 589.4 625.3 591.1 625.2 C592.8 625.1 596.4 624.3 598 623.3 C599.6 622.4 602 620.6 603.2 618.2 C604.3 615.8 605.7 608.7 606.6 605.3 C607.5 601.8 609.6 594.1 610 592.4" />
<path class="k k2" d="M607.5 557.1 C608.4 557 613.3 555.5 614.3 556.3 C615.4 557.1 615.5 560.4 615.2 563.2 C614.8 565.9 612.4 573.9 611.7 576.9 C611.1 579.9 610.3 584.4 610 585.5" />
<path class="k k" d="M603.2 572.2 C603.8 570.9 605.8 570.8 606.6 570.9 C607.4 571 609.2 571.3 609.2 572.8 C609.2 574.3 607.6 578.8 606.6 582.1 C605.6 585.4 603 594.3 601.9 597.5 C600.7 600.8 598.8 605.5 598 606.6 C597.2 607.6 596.2 606.6 596.1 605.3 C596 604 596.4 600 597.1 596.7 C597.8 593.4 600.6 583.6 601.4 580.3 C602.2 577.1 602.5 573.4 603.2 572.2 Z" stroke-width="2.73"/>
<path class="k k25" d="M586 535.6 L592 535.6 M593.7 535.2 L613.5 533.5" />
<path class="k k25" d="M621.4 540.8 L619.5 549.8" />
<path class="k k2" d="M574.8 631.1 C574.3 632.5 572.4 637.1 572.2 639.7 C572 642.3 573.3 645.4 573.5 646.6" />
<path class="k k2" d="M592 607 L589.4 615.6" />
<path class="k k3" d="M607 588.5 L618.6 596.3" />
<path class="k k2" d="M627 600.3 L701.5 643.9" stroke-dasharray="12 6.3" stroke-linecap="butt"/>
<path class="k k2" d="M724.5 661.3 L737.8 668" />
<path class="k k3" d="M698.1 658.5 C698 657.4 697.3 651.2 697.7 649.4 C698 647.6 700.1 644.2 701.1 642.9 C702.1 641.6 705.2 639.3 706.3 638.6 C707.4 637.8 708.9 636.8 710.6 636.6 C712.3 636.3 719.7 635.7 721 636.4 C722.3 637.1 721.3 641.2 721.7 642.5 C722.1 643.8 724.1 646.5 724.5 647.7 C724.8 648.8 724.5 651.4 725 652.2 C725.5 652.9 728.3 653.4 728.8 654.1 C729.2 654.9 729.3 657.8 728.9 658.5 C728.6 659.1 726.8 659.2 726.2 659.9 C725.6 660.7 724 664.4 723.8 664.9" />
<path class="k k2" d="M702.8 656.3 C702.8 655.3 702.3 650.4 702.8 648.5 C703.4 646.7 705.3 643.6 707.2 642.5 C709 641.3 715.1 640 716.7 639.9 C718.2 639.8 718.8 641.1 718.8 641.6 C718.9 642.1 717.3 643.5 717.1 643.8" />
<circle cx="714.3" cy="652.2" r="4.6" class="k k2"/><circle cx="714.3" cy="652.2" r="1.9" class="k k15"/>
<path class="k k3" d="M698.1 658.5 C698 659.6 697.2 665 697.5 666.7 C697.8 668.3 699.3 670.4 700.3 671 C701.2 671.6 704 671 704.6 671" />
<path class="k k25" d="M699 661.5 C699.9 661.1 703.9 659.4 706.3 658.5 C708.7 657.5 715.3 654.7 716.7 654.1" />
<path class="k k25" d="M704.6 670.1 C704.5 669.4 703.3 666.2 704.1 664.9 C704.9 663.7 708.7 661.8 710.6 661.1 C712.5 660.3 716.9 659.1 718.4 659.1 C719.9 659 721.4 660.4 721.9 660.6" />
<path class="k k3" d="M714.9 653.3 C715.9 653.8 720.6 656.1 721.9 657.2 C723.1 658.3 724.1 660.9 724.5 661.5" />
<path class="k k25" d="M702.4 672.7 C701.8 675.5 699.7 683.5 698.5 689.1 C697.3 694.8 696.3 700.2 695.1 706.4 C693.8 712.6 691.8 723 691.2 726.3" />
<path class="k k" d="M708.9 666.7 C709 671.9 709.4 689.7 709.3 697.8 C709.2 705.9 708.9 709.5 708.2 715.1 C707.6 720.7 705.9 728.8 705.4 731.5" stroke-width="3.99"/>
<path class="k k25" d="M723.4 663.2 C723.4 669 723.6 686.7 723.6 697.8 C723.6 708.9 723.4 724.4 723.4 729.8" />
<path class="k k25" d="M708 728.9 L718.4 718.5" />
<g transform="translate(741 670.5) rotate(26) scale(1)"><path class="f" d="M0 -3.5999999999999996 Q-2.4 0 0 3.5999999999999996 L1.4 4.3999999999999995 L20 4.6 L20.5 7 Q22 8.2 23.5 7.4 Q30 8 33 4.8 Q35.2 0 33 -4.8 Q30 -8 23.5 -7.4 Q22 -8.2 20.5 -7 L20 -4.6 L1.4 -4.3999999999999995 Z"/><path d="M2.6 0.4 l1.4 -1.6" stroke="#fff" stroke-width="1.1" fill="none"/><path d="M6 0.4 l1.4 -1.6" stroke="#fff" stroke-width="1.1" fill="none"/><path d="M9.4 0.4 l1.4 -1.6" stroke="#fff" stroke-width="1.1" fill="none"/><path d="M12.8 0.4 l1.4 -1.6" stroke="#fff" stroke-width="1.1" fill="none"/><path d="M16.2 0.4 l1.4 -1.6" stroke="#fff" stroke-width="1.1" fill="none"/><path d="M23.4 -5 Q21.2 0 23.4 5" fill="none" stroke="#fff" stroke-width="1.1"/><path d="M28 -2.6 L31 -2 Q32 0.4 30.6 3 L28 2.6 Q27.2 0 28 -2.6Z" fill="#fff"/><circle cx="25.8" cy="-3.6" r="0.9" fill="#fff"/><circle cx="25.6" cy="3.4" r="0.8" fill="#fff"/></g>
</g>

<!-- 17_door2.svg -->
<g>
<path class="k k3" d="M682.9 1342.3 C683.8 1334.8 686.8 1304.9 688.7 1292.6 C690.6 1280.2 694 1266.8 695.5 1260 C697 1253.2 697.3 1250.6 698.7 1247 C700.2 1243.5 702.6 1240.9 705.1 1236.4 C707.7 1231.9 712.6 1223 715.7 1217.2 C718.9 1211.5 723.2 1204 726.4 1198.1 C729.6 1192.2 733.8 1183.9 737 1177.9 C740.2 1171.8 742.7 1167.6 747.7 1157.7 C752.6 1147.8 765.6 1120.4 769.9 1111.8 C774.2 1103.3 774.1 1103.8 776.3 1100.6 C778.4 1097.5 781.6 1093.8 784.3 1091.1 C786.9 1088.3 790.6 1084.7 793.8 1082.3 C797.1 1079.9 802.2 1076.9 805.8 1075.1 C809.4 1073.3 813.6 1071.8 817.8 1070.3 C822 1068.9 828.4 1067.2 833.7 1065.5 C839 1063.9 848.3 1060.7 853.2 1059.2 C858.1 1057.8 862.5 1056.8 866.5 1055.9 C870.5 1054.9 874.8 1053.9 879.8 1052.9 C884.8 1051.9 895.8 1049.2 900 1048.9 C904.2 1048.6 905.2 1049.8 907.6 1050.9 C910 1052.1 913.9 1054.7 916 1056.7 C918.1 1058.6 920.1 1060.8 921.4 1063.9 C922.7 1066.9 923.4 1072.5 924.4 1077 C925.4 1081.5 927 1088.6 928 1093.8 C929 1099 930.2 1105.3 931 1111.7 C931.8 1118.2 932.5 1124.7 933.4 1136.7 C934.3 1148.7 936.1 1176.1 937.1 1191.7 C938 1207.4 939.4 1227.5 939.8 1241.3 C940.2 1255 940 1273 939.8 1283.5 C939.7 1293.9 939.4 1302.8 938.9 1311 C938.3 1319.3 937.2 1331.1 936.1 1338.5 C935 1346 933.3 1355 931.6 1360.6 C929.8 1366.1 926.7 1371.7 924.2 1375.2 C921.7 1378.8 917.2 1383.2 915 1384.4 C912.8 1385.6 910.8 1384.3 909.5 1383.5 C908.3 1382.7 906.9 1380.4 906.8 1378.9 C906.7 1377.4 907.4 1375.3 908.6 1373.4 C909.9 1371.5 914.1 1367.2 915 1366.1" />
<path class="k k" d="M697.5 1342.3 C698.4 1334.8 701.4 1304.9 703.4 1292.6 C705.3 1280.2 708.7 1266.4 710.4 1260 C712.1 1253.6 712.9 1253.8 714.7 1250.2 C716.4 1246.7 719.4 1241.3 722.1 1236.4 C724.8 1231.4 729.6 1223 732.8 1217.2 C736 1211.5 740.2 1204 743.4 1198.1 C746.6 1192.2 750.9 1183.9 754 1177.9 C757.2 1171.8 759.9 1167.4 764.7 1157.7 C769.5 1147.9 781.5 1121 785.9 1112.6 C790.2 1104.2 791.4 1104.4 793.8 1101.4 C796.2 1098.4 798.8 1095.2 801.8 1092.7 C804.8 1090.1 810.2 1086.6 813.8 1084.7 C817.4 1082.8 822.2 1081.2 825.7 1079.9 C829.3 1078.6 832.6 1077.4 837.7 1075.9 C842.8 1074.4 853.5 1071.6 859.8 1070.2 C866.2 1068.7 873.8 1067.3 879.8 1066.2 C885.8 1065.1 896.2 1063.9 900 1062.9 C903.8 1061.9 903.6 1059.4 905.2 1059.7 C906.8 1059.9 909.5 1062.6 910.6 1064.5 C911.7 1066.3 911.6 1067.8 912.4 1072.2 C913.2 1076.6 914.9 1087.9 916 1093.8 C917.1 1099.7 918.8 1105.3 919.6 1111.7 C920.4 1118.2 920.6 1124.7 921.5 1136.7 C922.3 1148.7 924 1175.2 925.1 1191.7 C926.2 1208.3 928.2 1233 928.8 1246.8 C929.4 1260.6 929.4 1273.9 929.4 1283.5 C929.4 1293.1 929.3 1304.1 928.8 1311 C928.3 1317.9 927 1323.9 926.1 1329.4 C925.1 1334.9 923.8 1342.8 922.4 1347.7 C921 1352.7 918.8 1358.5 916.9 1362.4 C915 1366.2 910.6 1371.7 909.5 1373.4" stroke-width="4.41"/>
<path class="k k2" d="M687.8 1342.3 C688.7 1334.8 691.7 1304.9 693.7 1292.6 C695.6 1280.2 699.3 1266.5 700.9 1260 C702.4 1253.5 702.4 1252.7 704 1249.1 C705.6 1245.6 708.8 1241.2 711.5 1236.4 C714.2 1231.6 718.9 1223 722.1 1217.2 C725.3 1211.5 729.6 1204 732.8 1198.1 C736 1192.2 740.2 1183.9 743.4 1177.9 C746.6 1171.8 749.1 1167.6 754 1157.7 C759 1147.8 771.7 1120.6 776.3 1111.8 C780.8 1103 781.9 1102.4 784.3 1099 C786.6 1095.7 789.6 1092.1 792.2 1089.5 C794.9 1086.8 798.6 1083.5 801.8 1081.5 C805 1079.5 809.6 1077.5 813.8 1075.9 C818 1074.3 825.8 1072 829.7 1070.7 C833.7 1069.5 835.4 1068.8 839.9 1067.5 C844.4 1066.3 853.9 1063.9 859.8 1062.5 C865.8 1061.1 873.8 1059.4 879.8 1058.2 C885.8 1057.1 896.2 1055.6 900 1054.9 C903.8 1054.2 904.5 1053.9 905.2 1053.7" />
<path class="k k2" d="M692.5 1342.3 C693.4 1334.8 696.4 1304.9 698.4 1292.6 C700.3 1280.2 704.2 1266.4 705.6 1260 C707.1 1253.6 706.8 1253.8 708.3 1250.2 C709.8 1246.7 713 1241.3 715.7 1236.4 C718.5 1231.4 723.2 1223 726.4 1217.2 C729.6 1211.5 733.8 1204 737 1198.1 C740.2 1192.2 744.5 1183.9 747.7 1177.9 C750.9 1171.8 753.5 1167.4 758.3 1157.7 C763.1 1147.9 775.1 1121.2 779.5 1112.6 C783.8 1104.1 785.1 1103.9 787.4 1100.6 C789.8 1097.4 792.7 1093.7 795.4 1091.1 C798.2 1088.4 802.4 1085.1 805.8 1083.1 C809.1 1081.1 813.6 1079.2 817.8 1077.5 C822 1075.8 830.4 1072.9 833.7 1071.9 C837 1070.9 836 1071.8 839.9 1070.9 C843.8 1069.9 853.9 1066.9 859.8 1065.5 C865.8 1064.1 873.8 1062.6 879.8 1061.5 C885.8 1060.4 896 1058.9 900 1058.2 C904 1057.5 905.5 1057.1 906.4 1056.9" />
<path class="k k3" d="M682.9 1342.3 C683.1 1343 683.1 1345.6 684.3 1346.7 C685.6 1347.7 688.2 1348.7 690.2 1348.7 C692.1 1348.7 694.8 1347.7 696 1346.7 C697.3 1345.6 697.3 1343 697.5 1342.3" />
<path class="k k3" d="M734.4 1076.7 C733.3 1077.6 734.7 1079.4 734.9 1079.9 C735.2 1080.4 737 1080.9 737.2 1081.5 C737.3 1082 737.1 1084.2 736.4 1085.5 C735.7 1086.8 731.5 1092.5 730 1094.3 C728.5 1096 724 1099 721.8 1102.6 C719.6 1106.2 710.2 1126 708.1 1130.1 C706 1134.2 702.4 1140.8 700.9 1143.8 C699.3 1146.9 694 1157.6 692.3 1160.9 C690.6 1164.1 685.5 1173.7 683.8 1176.8 C682.1 1179.9 677 1188.7 675.3 1191.7 C673.6 1194.7 668.2 1204.3 666.8 1206.6 C665.4 1208.9 662.7 1213.7 661.5 1215.1 C660.3 1216.5 656.6 1219.4 655.1 1220.4 C653.6 1221.5 648.3 1224.8 646.6 1225.7 C644.9 1226.7 639.3 1229.1 638.1 1230 C636.9 1230.9 634.6 1233.8 634.4 1234.8 C634.1 1235.7 634.9 1238.9 635.4 1239.6 C636 1240.3 639.1 1241 639.7 1241.7 C640.2 1242.4 640.3 1245.8 640.7 1246.5 C641.2 1247.1 643.3 1248.4 643.9 1248.3 C644.6 1248.2 646.6 1246.3 647.1 1245.4 C647.6 1244.6 648.2 1240.5 648.7 1239.6 C649.2 1238.7 651.2 1236.8 651.9 1236.4 C652.7 1236 655.4 1235.3 656.2 1235.3 C656.9 1235.4 658.8 1237 659.4 1236.9 C659.9 1236.9 661.5 1235.5 662 1234.8 C662.5 1234.1 663.9 1231.1 664.1 1230 C664.4 1228.9 664.3 1224.6 664.7 1223.6 C665.1 1222.7 666.6 1221 667.9 1220.4 C669.1 1219.9 676.3 1218 677.4 1218.3 C678.6 1218.6 679.5 1222.2 679.6 1223.6 C679.6 1225 678.4 1230.7 678 1232.1 C677.6 1233.5 676 1236.4 675.3 1237.4 C674.6 1238.5 671.5 1241.9 671.1 1242.8 C670.6 1243.6 670.3 1245 671.1 1246 C671.8 1246.9 677.3 1251.8 678.5 1252.3 C679.7 1252.9 682 1252 682.8 1251.3 C683.5 1250.5 684.8 1247.4 686 1244.9 C687.1 1242.3 692.6 1229.8 694.5 1225.7 C696.4 1221.7 703 1208.7 705.1 1204.5 C707.2 1200.2 713.6 1187.3 715.7 1183.2 C717.9 1179 724.3 1167 726.4 1163 C728.5 1158.9 735.1 1146.6 737 1142.8 C739 1138.9 744.3 1127.8 746 1124.6 C747.6 1121.3 752.3 1112.8 753.9 1110.2 C755.5 1107.6 760.3 1100.5 761.9 1098.2 C763.5 1096 768.3 1089.7 769.9 1087.9 C771.5 1086 776.3 1081.3 777.9 1079.9 C779.5 1078.5 783.9 1074.8 785.9 1073.5 C787.8 1072.2 795 1068.4 797.8 1067.1 C800.6 1065.9 810.6 1061.9 813.8 1060.7 C817 1059.5 827.1 1055.6 829.7 1055.2 C832.3 1054.7 837.5 1056.1 839.9 1055.9 C842.2 1055.7 850.3 1053.8 853.2 1053.2 C856.1 1052.6 867.3 1050.4 869.1 1049.9 C871 1049.4 871.2 1048.7 871.5 1047.9 C871.7 1047.1 871.7 1043 871.5 1042.3 C871.2 1041.5 869.7 1040.8 869.1 1040.6 C868.6 1040.4 866.3 1040.9 865.8 1040.6 C865.3 1040.3 864.5 1038.4 864.2 1037.6 C863.8 1036.8 863 1033.7 862.5 1033 C862 1032.3 860.4 1030.8 859.5 1030.6 C858.6 1030.5 855.2 1031.3 853.2 1031.6 C851.2 1032 842.6 1033.7 839.9 1034.3 C837.2 1034.9 829.6 1036.6 826.6 1037.6 C823.6 1038.6 813.1 1043.2 809.8 1044.4 C806.5 1045.6 797 1048.4 793.8 1049.6 C790.6 1050.7 781.1 1054.6 777.9 1056 C774.7 1057.3 765.1 1061.6 761.9 1063.1 C758.7 1064.7 748.7 1069.8 746 1071.1 C743.2 1072.5 735.5 1075.8 734.4 1076.7 Z" />
<path class="k k2" d="M679.6 1248.1 C680.1 1246.5 682.1 1240.2 683.8 1236.4 C685.5 1232.6 690.1 1223.9 692.3 1219.4 C694.6 1214.8 698.7 1206.7 700.9 1202.3 C703 1197.9 706 1191.1 708.3 1186.4 C710.6 1181.7 715.2 1172.5 717.9 1167.2 C720.6 1162 725.3 1152.8 728.5 1147 C731.7 1141.2 739.1 1128.7 742 1123.8 C744.8 1118.9 747.8 1113.7 749.9 1110.2 C752.1 1106.7 755.8 1100.5 757.9 1097.4 C760.1 1094.4 763.8 1089.7 765.9 1087.1 C768 1084.4 771.4 1079.9 773.9 1077.5 C776.3 1075.1 781.6 1070.5 784.3 1068.7 C786.9 1066.9 790.4 1065.4 793.8 1063.9 C797.2 1062.4 805.5 1059.1 809.8 1057.6 C814 1056 822.4 1052.9 825.7 1052 C829.1 1051.1 832.5 1051.5 835.2 1050.9 C838 1050.3 843 1048.4 846.5 1047.4 C850.1 1046.3 859.8 1043.5 861.8 1042.9" />
<path class="k k1" d="M821.9 1057 C824.9 1056.4 834.7 1054.5 839.9 1053.4 C845.1 1052.3 848.5 1051.7 853.2 1050.4 C857.8 1049.1 865.4 1046.3 867.8 1045.5" />
<path class="k k15" d="M737 1084.7 C735.3 1087.8 728.8 1099.5 724.6 1108.1 C720.3 1116.7 708.8 1141.4 705.1 1149.1 C701.4 1156.9 698.9 1161.9 696.6 1166.2 C694.3 1170.4 690.4 1177.1 688.1 1181.1 C685.8 1185 681.8 1192 679.6 1196 C677.3 1199.9 673 1207.4 671.1 1210.9 C669.1 1214.3 666.2 1219.2 664.7 1221.5 C663.1 1223.8 660.1 1227 659.4 1227.9" />
<path class="k k3" d="M711.5 1135.3 C712.7 1135.9 715.9 1136.6 718.9 1138.5 C722 1140.5 727.8 1145.6 729.6 1147" />
<path class="k k3" d="M697.7 1161.9 C698.9 1162.4 702.1 1163 705.1 1165.1 C708.1 1167.2 714 1173.1 715.7 1174.7" />
<path class="k k3" d="M682.8 1191.7 C683.8 1192.4 686.3 1194 689.1 1196 C692 1197.9 698 1202.2 699.8 1203.4" />
<path class="k k3" d="M676.4 1203.4 C677.6 1204.4 681.2 1207 683.8 1209.3 C686.5 1211.6 690.9 1215.9 692.3 1217.2" />
<path class="k k15" d="M677.4 1206.1 L686 1211.1" />
<path class="k k3" d="M730 1109.4 L742.8 1119.8" />
<path class="k k25" d="M778.7 1061.1 L784.3 1067.1" />
<path class="k k25" d="M829.3 1041.6 L835.2 1050.9" />
<path class="k k" d="M740.8 1097 L744.8 1097 L748 1101 L745.6 1107.4 L742.8 1109.8 L739.2 1107.4 L737 1103 Z" stroke-width="3.78"/>
<path class="k k" d="M711 1145.4 L715.7 1144.9 L718.4 1150.2 L714.5 1158.7 L709.9 1156.1 L708.9 1150.2 Z" stroke-width="3.78"/>
<path class="k k25" d="M760.3 1071.1 C760.9 1071.2 763.9 1071.3 764.3 1071.9 C764.7 1072.6 764.1 1075.3 763.5 1075.9 C762.9 1076.5 760.1 1076.6 759.5 1076.7" />
<path class="k k25" d="M749.1 1084.7 C749.7 1084.9 752.8 1085.5 753.1 1086.3 C753.5 1087 752.2 1089.5 751.5 1090.3 C750.9 1091 748.8 1091.6 748.4 1091.9" />
<path class="k k25" d="M813 1050.4 C813.5 1050.3 816.3 1049.7 817 1050 C817.6 1050.3 818 1052.2 817.8 1052.8 C817.6 1053.4 815.7 1054.1 815.4 1054.4" />
<path class="k k25" d="M694.5 1176.8 C695 1176.8 698.3 1176.1 698.7 1176.8 C699.1 1177.5 698.2 1181.3 697.7 1182.1 C697.2 1183 695.4 1183 695 1183.2" />
<path class="k k25" d="M723.2 1123.2 C723.8 1123.4 727.4 1123.7 727.6 1124.6 C727.8 1125.5 725 1129.4 724.6 1130.1" />
<path class="k k25" d="M846.5 1042.3 C846.9 1042 848.4 1040.7 849.2 1040.6 C850 1040.5 852.1 1041.1 852.5 1041.6 C853 1042.1 852.5 1043.9 852.5 1044.3" />
<path class="k k25" d="M812.3 1052.2 C812.7 1051.9 814.5 1050 815.3 1049.9 C816.1 1049.8 817.9 1050.7 818.3 1051.2 C818.6 1051.8 818 1053.5 818 1053.9" />
<path class="f" d="M742.8 1078.3 L751.5 1076.7 L744.4 1083.9 Z" />
<path class="k k2" d="M642.9 1240.6 L643.9 1246" />
<path class="k k2" d="M659.4 1228.9 L660.4 1234.8" />
<path class="k k15" d="M673.2 1244.4 L677.4 1238.5" />
<path class="k k" d="M708.1 1080.6 C709.2 1079.5 709.7 1075.6 710.8 1075 C711.9 1074.5 715 1075.7 716.3 1076.4 C717.7 1077.2 720.6 1079.3 721.1 1080.6 C721.7 1081.8 721.3 1084.4 720.5 1086.1 C719.6 1087.7 716.6 1091.8 715 1092.9 C713.3 1094 710.1 1093.8 708.1 1094.3 C706.1 1094.9 701.8 1095.2 699.8 1097.1 C697.8 1098.9 694.6 1105.5 692.9 1108.1 C691.3 1110.6 688.2 1114.1 687.4 1116.3 C686.7 1118.5 686.9 1122.8 687.4 1124.6 C688 1126.4 691.4 1128.4 691.6 1130.1 C691.7 1131.7 689.9 1135.1 688.8 1137 C687.7 1138.8 684.8 1143 683.3 1143.9 C681.8 1144.7 679.2 1144.1 677.8 1143.2 C676.4 1142.2 673.2 1138.7 673 1137 C672.8 1135.2 675.8 1131.7 676.4 1130.1 C677.1 1128.4 678.1 1126.4 677.8 1124.6 C677.5 1122.8 674.7 1118.5 674.4 1116.3 C674 1114.1 674.2 1110.6 675 1108.1 C675.9 1105.5 679.1 1099.8 680.6 1097.1 C682 1094.3 684.2 1089.3 686.1 1087.4 C687.9 1085.6 692.1 1083.9 694.3 1083.3 C696.5 1082.7 700.7 1083 702.6 1082.6 C704.4 1082.2 707 1081.6 708.1 1080.6 Z" stroke-width="3.78"/>
<path class="k k25" d="M691.6 1101.2 C692.4 1099.7 695 1093.6 697.1 1091.6 C699.1 1089.5 703.3 1088.3 705.3 1087.4 C707.4 1086.6 710 1086.3 710.8 1086.1" />
<path class="k k15" d="M711.1 1082.2 L716.3 1081.4 L715.6 1087.4 L711.7 1087.4 Z" />
<path class="k k2" d="M680.6 1134.2 C681.1 1134.1 684.3 1132.4 684.7 1133.1 C685 1133.9 683.5 1138.8 683.3 1139.7" />
<g transform="translate(696.8 1075.3) rotate(207) scale(1.2)"><path class="f" d="M0 -2.8 Q-2.6 0 0 2.8 L1.2 3.9 L9.6 4.4 L10 7.4 Q11.8 8.8 14 7.9 Q19.5 8.2 22 5.2 Q24.4 0 22 -5.2 Q19.5 -8.2 14 -7.9 Q11.8 -8.8 10 -7.4 L9.6 -4.4 L1.2 -3.9 Z"/><path d="M13.3 -5.6 Q11 0 13.3 5.6" fill="none" stroke="#fff" stroke-width="1.1"/><path d="M16.6 -3.4 L20.3 -2.8 Q21.6 0 20.2 2.4 L16.6 3 Q15.6 0 16.6 -3.4Z" fill="#fff"/><circle cx="2.5" cy="-1.5" r="0.6" fill="#fff"/><circle cx="5.5" cy="-1.6" r="0.6" fill="#fff"/><circle cx="8.3" cy="-1.6" r="0.6" fill="#fff"/></g>
<g transform="translate(667.2 1124.2) rotate(207) scale(1.2)"><path class="f" d="M0 -2.8 Q-2.6 0 0 2.8 L1.2 3.9 L9.6 4.4 L10 7.4 Q11.8 8.8 14 7.9 Q19.5 8.2 22 5.2 Q24.4 0 22 -5.2 Q19.5 -8.2 14 -7.9 Q11.8 -8.8 10 -7.4 L9.6 -4.4 L1.2 -3.9 Z"/><path d="M13.3 -5.6 Q11 0 13.3 5.6" fill="none" stroke="#fff" stroke-width="1.1"/><path d="M16.6 -3.4 L20.3 -2.8 Q21.6 0 20.2 2.4 L16.6 3 Q15.6 0 16.6 -3.4Z" fill="#fff"/><circle cx="2.5" cy="-1.5" r="0.6" fill="#fff"/><circle cx="5.5" cy="-1.6" r="0.6" fill="#fff"/><circle cx="8.3" cy="-1.6" r="0.6" fill="#fff"/></g>
<path class="k k" d="M651.4 1047.5 C652.8 1046.9 661.4 1049.2 662 1050.6 C662.6 1051.9 658.9 1060 657.4 1060.6 C656 1061.2 648.1 1058.2 647.5 1056.9 C646.9 1055.6 649.9 1048.2 651.4 1047.5 Z" stroke-width="3.89"/>
<path class="k k" d="M622.8 1091.6 C624.3 1090.8 633.2 1093.6 633.8 1095 C634.3 1096.4 630.1 1105.3 628.5 1106 C626.9 1106.8 618.5 1104 617.9 1102.6 C617.4 1101.1 621.2 1092.3 622.8 1091.6 Z" stroke-width="3.89"/>
</g>

<!-- 18_cowl2.svg -->
<g>
<path class="k k" d="M584.6 1385.7 C586.6 1383.8 603.6 1379.4 608.9 1377.8 C614.2 1376.2 643.8 1367.4 648.5 1366.5 C653.2 1365.5 663.3 1366.3 665.4 1366.5 C667.6 1366.6 673.7 1369 674.5 1368.2 C675.2 1367.3 674.1 1357.5 674.5 1356.3 C674.8 1355.1 678 1354.2 679 1354 C680 1353.9 685.8 1354.1 686.9 1354.6 C688 1355.1 692 1357.7 692.6 1359.7 C693.1 1361.7 692.9 1375.4 693.1 1378.9 C693.3 1382.4 694.5 1397.7 694.8 1401.5 C695.1 1405.3 696.7 1421.1 697.1 1424.1 C697.5 1427.1 698.7 1436.3 699.3 1437.7 C700 1439.1 703.3 1440.7 705 1441.1 C706.7 1441.4 717.8 1441.4 719.7 1441.6 C721.6 1441.9 726.5 1443.8 727.6 1444.5 C728.7 1445.2 732.4 1449.4 732.7 1450.1 C733 1450.9 732.1 1452.9 731 1453.5 C729.9 1454.2 721.6 1457.8 719.7 1458 C717.8 1458.3 710.1 1456.8 708.4 1456.3 C706.7 1455.9 701 1452.6 699.3 1452.4 C697.6 1452.1 689.9 1453.1 688 1453.5 C686.1 1453.9 679.6 1456.3 676.7 1456.9 C673.9 1457.5 657.7 1460 654.1 1460.3 C650.5 1460.6 635.8 1461 633.8 1460.3 C631.7 1459.6 630.2 1454.3 629.3 1452.4 C628.3 1450.5 623.8 1439.9 622.5 1437.7 C621.2 1435.5 615.5 1428.5 613.4 1426.4 C611.4 1424.3 600 1415 597.6 1412.8 C595.3 1410.7 586.3 1402.6 585.2 1400.4 C584.1 1398.1 582.6 1387.6 584.6 1385.7 Z" stroke-width="3.99"/>
<path class="k k25" d="M675.6 1376.6 C674.4 1376.2 666.4 1372.4 663.2 1372.1 C659.9 1371.8 648.2 1372.6 642.8 1373.8 C637.4 1375 614.2 1382.4 608.9 1384 C603.7 1385.6 592 1389 590.3 1390.2 C588.6 1391.4 590.7 1394.3 592 1395.9 C593.3 1397.4 601.2 1403.9 603.3 1406 C605.3 1408.2 610.6 1414.9 612.3 1417.3 C614 1419.8 618.6 1428.2 620.2 1430.9 C621.8 1433.6 626.5 1442.2 628.1 1444.5 C629.8 1446.8 635.8 1453.1 636.6 1454.1" />
<path class="k k25" d="M636.6 1454.1 C637.7 1453.9 641.2 1454.2 645.1 1452.9 C648.9 1451.7 659.7 1446.1 665.4 1444.5 C671.2 1442.8 685 1441 688 1440.5" />
<path class="k k25" d="M677.3 1359.7 C677.2 1361 677 1364.9 677 1367.6 C676.9 1370.3 676.8 1374.7 676.7 1376.1" />
<path class="k k3" d="M685.2 1362 C685.4 1365.7 685.9 1383.4 686.3 1390.2 C686.8 1397 687.9 1407.1 688.6 1412.8 C689.3 1418.5 690.6 1429.1 691.4 1433.2 C692.3 1437.2 693.8 1441.2 694.8 1443.3 C695.9 1445.4 697.5 1447.7 699.3 1449 C701.1 1450.3 706 1452.3 708.4 1452.9 C710.8 1453.5 716.2 1453.4 717.4 1453.5" />
<path class="k k15" d="M688 1364.2 C688.2 1367.7 688.9 1383.7 689.4 1390.2 C689.9 1396.7 691 1407.2 691.6 1412.8 C692.3 1418.4 693.6 1429.5 693.9 1432" />
<path class="k k2" d="M683.5 1362 C684.1 1361.5 686.1 1359.5 686.9 1359.1 C687.7 1358.8 687.8 1359.6 688 1359.7" />
<path class="k k25" d="M642.8 1376.1 C644.6 1375.9 653.4 1374.2 656.4 1374.4 C659.4 1374.6 662.9 1377.3 665.4 1377.8 C668 1378.3 674.2 1378.3 675.6 1378.3" />
<path class="k k25" d="M608.9 1406 C611.9 1404.8 625.2 1399.6 631.5 1397 C637.8 1394.4 651.1 1388 656.4 1386.8 C661.7 1385.6 667.2 1387.2 671.1 1388 C675 1388.7 683.8 1391.9 685.8 1392.5" />
<path class="k k25" d="M608.9 1412.8 C612.7 1411.5 630.2 1404.6 637.2 1402.6 C644.1 1400.7 655.6 1398.3 660.9 1398.1 C666.2 1398 673.3 1400.6 676.7 1401.5 C680.1 1402.4 685.1 1404.5 686.3 1404.9" />
<path class="k k25" d="M627 1417.3 C629.4 1416.6 640.6 1413.1 645.1 1411.7 C649.6 1410.3 657 1407.1 660.9 1406.6 C664.8 1406.2 671.1 1407.5 674.5 1408.3 C677.9 1409.1 684.8 1412.2 686.3 1412.8" />
<path class="k k25" d="M638.3 1426.4 C640.4 1425.5 650.8 1421 654.1 1419.6 C657.4 1418.2 660.2 1415.9 663.2 1415.6 C666.2 1415.3 673.6 1416.7 676.7 1417.3 C679.9 1417.9 685.5 1419.8 686.9 1420.2" />
<path class="k k25" d="M642.8 1434.3 C644.6 1433.4 653.4 1428.9 656.4 1427.5 C659.4 1426.2 662.4 1424.4 665.4 1424.1 C668.4 1423.8 676 1424.7 679 1425.3 C682 1425.8 686.8 1427.7 688 1428.1" />
<path class="k k25" d="M647.3 1442.2 C649.1 1441.3 657.6 1436.9 660.9 1435.4 C664.2 1434 669.2 1431.8 672.2 1431.5 C675.2 1431.2 681.2 1432.6 683.5 1433.2 C685.8 1433.7 688.4 1435.1 689.2 1435.4" />
<path class="k k25" d="M638.3 1454.6 C641.2 1453.3 655 1446.6 659.8 1444.5 C664.6 1442.4 670.7 1439.6 674.5 1438.8 C678.2 1438.1 686.2 1438.8 688 1438.8" />
<path class="k k25" d="M660.9 1455.8 C663 1454.6 673.1 1448.4 676.7 1446.7 C680.3 1445.1 686.5 1443.8 688 1443.3" />
<path class="k k" d="M609.5 1404.9 L625.9 1399" stroke-width="4.73"/>
<path class="f" d="M629.8 1406.6 L633.8 1402.1 L636.9 1406.6 L636 1412.8 L631.5 1411.7 Z" />
<path class="k k3" d="M618.5 1416.2 L619.3 1423.6 M621.9 1415.6 L622.7 1423" />
<path class="k k25" d="M627 1416.4 L636 1411.9 M628.1 1421 L633.8 1418.5" />
<path class="k k25" d="M705 1444.5 C706.7 1444.7 711.8 1444.7 715.2 1445.6 C718.6 1446.5 723.6 1449.4 725.3 1450.1" />
<path class="k k2" d="M703.9 1444.5 L714 1452.9 M717.4 1445.6 L725.3 1451.2" />
<path class="k k25" d="M676.7 1441.1 C677.9 1441.8 680.9 1444.6 683.5 1445.6 C686.1 1446.6 691 1447 692.6 1447.3" />
</g>

<!-- 19_scuff2.svg -->
<g>
<path class="k k" d="M723.8 1436.5 C724 1435.7 720.4 1433.3 728.2 1430.7 C736 1428.1 803.6 1409.7 817.4 1405.8 C831.2 1402 886.1 1386.4 893.5 1384.6 C900.8 1382.8 902.8 1383 905.2 1383.9 C907.5 1384.7 919.8 1393.4 921.2 1394.9 C922.7 1396.3 928.2 1399.1 922 1401.4 C915.8 1403.8 861.2 1418.6 846.6 1422.6 C832.1 1426.7 755.8 1448.5 747.2 1450.4 C738.5 1452.3 743.6 1446.1 742.8 1445.3 C741.9 1444.5 738.4 1441.3 736.9 1440.9 C735.5 1440.6 726.3 1441.3 725.2 1440.9 C724.1 1440.6 723.5 1437.4 723.8 1436.5 Z" stroke-width="3.78"/>
<path class="k k15" d="M740.6 1433.6 L896.4 1388.3 L918 1397 L751.6 1443.6 Z" />
<path d="M742.8 1435.6 L900.7 1390" stroke="#000" stroke-width="2.62" fill="none" stroke-dasharray="7 4" stroke-dashoffset="0"/>
<path d="M746.1 1438.6 L907.2 1392.7" stroke="#000" stroke-width="2.62" fill="none" stroke-dasharray="7 4" stroke-dashoffset="3"/>
<path d="M749.4 1441.6 L913.7 1395.3" stroke="#000" stroke-width="2.62" fill="none" stroke-dasharray="7 4" stroke-dashoffset="6"/>
<path d="M757.9 1428.6 L770.1 1438.4" stroke="#000" stroke-width="1.05" fill="none"/>
<path d="M775.2 1423.5 L788.6 1433.2" stroke="#000" stroke-width="1.05" fill="none"/>
<path d="M792.5 1418.5 L807.1 1428.1" stroke="#000" stroke-width="1.05" fill="none"/>
<path d="M809.8 1413.5 L825.6 1422.9" stroke="#000" stroke-width="1.05" fill="none"/>
<path d="M827.1 1408.4 L844 1417.7" stroke="#000" stroke-width="1.05" fill="none"/>
<path d="M844.5 1403.4 L862.5 1412.6" stroke="#000" stroke-width="1.05" fill="none"/>
<path d="M861.8 1398.3 L881 1407.4" stroke="#000" stroke-width="1.05" fill="none"/>
<path d="M879.1 1393.3 L899.5 1402.2" stroke="#000" stroke-width="1.05" fill="none"/>
<g transform="translate(754.1 1393.7) scale(1)"><path class="f" d="M-7.8 -1 Q-7.8 -5.8 0 -5.8 Q7.8 -5.8 7.8 -1 Q7.8 3.2 5.2 4.8 L5.2 18.5 L1.6 25.2 L-1.6 25.2 L-5 18.5 L-5.2 4.8 Q-7.8 3.2 -7.8 -1Z"/><path d="M-3.6 0 Q0 2.6 3.6 0" fill="none" stroke="#fff" stroke-width="1.3"/><circle cx="0" cy="8" r="0.7" fill="#fff"/><circle cx="0" cy="12.5" r="0.7" fill="#fff"/><circle cx="0" cy="17" r="0.7" fill="#fff"/></g>
<g transform="translate(805 1379.2) scale(0.9)"><path class="f" d="M-7.8 -1 Q-7.8 -5.8 0 -5.8 Q7.8 -5.8 7.8 -1 Q7.8 3.2 5.2 4.8 L5.2 18.5 L1.6 25.2 L-1.6 25.2 L-5 18.5 L-5.2 4.8 Q-7.8 3.2 -7.8 -1Z"/><path d="M-3.6 0 Q0 2.6 3.6 0" fill="none" stroke="#fff" stroke-width="1.3"/><circle cx="0" cy="8" r="0.7" fill="#fff"/><circle cx="0" cy="12.5" r="0.7" fill="#fff"/><circle cx="0" cy="17" r="0.7" fill="#fff"/></g>
<g transform="translate(851.8 1367.1) scale(1)"><path class="f" d="M-7.6 -3.6 Q-7.8 -5.2 -6 -5.2 L6 -5.2 Q7.8 -5.2 7.6 -3.6 L5.2 3 L5 15.5 L1.5 21.8 L-1.5 21.8 L-4.8 15.5 L-5 3 Z"/><path d="M-4.2 -1.8 Q0 0.6 4.2 -1.8 L0 1.6Z" fill="#fff" stroke="#fff" stroke-width="0.8"/><circle cx="0" cy="7" r="0.7" fill="#fff"/><circle cx="0" cy="11.5" r="0.7" fill="#fff"/></g>
<g transform="translate(901.9 1353.2) scale(1)"><path class="f" d="M-7.6 -3.6 Q-7.8 -5.2 -6 -5.2 L6 -5.2 Q7.8 -5.2 7.6 -3.6 L5.2 3 L5 15.5 L1.5 21.8 L-1.5 21.8 L-4.8 15.5 L-5 3 Z"/><path d="M-4.2 -1.8 Q0 0.6 4.2 -1.8 L0 1.6Z" fill="#fff" stroke="#fff" stroke-width="0.8"/><circle cx="0" cy="7" r="0.7" fill="#fff"/><circle cx="0" cy="11.5" r="0.7" fill="#fff"/></g>
</g>

<!-- 20_visor.svg -->
<g>
<path class="k k" d="M260.1 1038.3 C259.7 1039.1 257.9 1043 256.9 1044.7 C256 1046.4 253.5 1048.9 252.9 1051.1 C252.3 1053.2 252 1058.5 252.5 1060.6 C253.1 1062.8 255.3 1065.5 256.9 1067 C258.6 1068.5 263.8 1071.2 264.9 1071.8" stroke-width="3.57"/>
<path class="k k" d="M268.5 1073.4 C269.2 1073.8 272.1 1075.3 274.5 1076.6 C276.8 1077.9 285.3 1082.5 288.8 1084.6 C292.4 1086.6 302.2 1092.6 304.8 1094.1 C307.4 1095.7 309.7 1097.5 311.2 1098.1 C312.7 1098.8 316.1 1100 317.6 1099.7 C319 1099.5 322.7 1097.5 323.9 1095.7 C325.1 1094 327.5 1087 327.9 1084.6 C328.4 1082.2 328.5 1076.9 327.9 1075 C327.4 1073.1 324.4 1069.5 323.1 1068.6 C321.8 1067.7 318 1067.4 316.8 1067 C315.5 1066.6 314 1066.3 312.8 1065.4 C311.6 1064.6 309.2 1061.9 306.4 1059.8 C303.6 1057.8 292.6 1050.4 288.8 1047.9 C285.1 1045.4 276.5 1039.6 274.5 1038.3 C272.4 1037 271.6 1036.9 271.3 1036.7" stroke-width="3.57"/>
<path class="k k25" d="M306.4 1060.6 L307.2 1067.8 L311.2 1071 L315.2 1067.8" />
<path class="k k15" d="M308.8 1064.6 L311.6 1067.8" />
<path class="k k2" d="M316.8 1091 L318 1095.7" />
<path class="k k25" d="M256.1 1055.1 L259.3 1055.5" />
<path class="f" d="M268.5 1072.2 L274.5 1075.4 L272.9 1078.6 L268.5 1078.6 Z" />
<path class="f" d="M262.5 1019.9 C263.3 1019.6 268.8 1018.8 269.7 1019.5 C270.6 1020.3 270.9 1025.9 271.3 1027.1 C271.7 1028.4 273.5 1031 273.7 1031.9 C273.8 1032.8 273.6 1035.2 272.9 1035.9 C272.2 1036.6 267.8 1038.5 266.5 1038.7 C265.2 1038.9 261.1 1038.2 260.1 1037.5 C259.1 1036.8 256.9 1033.2 256.5 1031.9 C256.1 1030.6 255.6 1025.6 256.1 1024.7 C256.6 1023.9 261.1 1023.6 261.7 1023.1 C262.3 1022.7 261.7 1020.3 262.5 1019.9 Z" />
<path d="M265.1 1023.5 L265.1 1027.5" fill="none" stroke-linecap="round" stroke-linejoin="round" stroke="#fff" stroke-width="1.8"/>
<path d="M259.5 1028.3 C260.1 1028.9 261.5 1031.2 263.3 1031.9 C265.1 1032.6 268.9 1032.2 270.1 1032.3" fill="none" stroke-linecap="round" stroke-linejoin="round" stroke="#fff" stroke-width="1.6"/>
<path class="f" d="M260.9 1037.5 L268.1 1038.3 L264.9 1040.7 Z" />
<path d="M263.3 1038.1 L266.5 1038.5 L264.9 1039.7 Z" fill="none" stroke-linecap="round" stroke-linejoin="round" stroke="#fff" stroke-width="0.9"/>
<path class="k k2" d="M268.1 1041.5 L268.9 1047.9 M268.5 1053.5 L268.9 1060.6 M268.5 1063.8 L268.7 1069.4 M268.5 1079 L268.5 1081.4" />
<path class="k k2" d="M246.5 1032.6 C245.9 1032.7 243.7 1032.9 243 1033.4 C242.2 1033.8 242.3 1034.1 242.2 1035.5 C242 1036.9 242 1040.5 241.9 1041.5 M242.2 1047.9 L242.2 1051.1 M242.6 1055.1 L242.7 1059" />
<circle cx="252.9" cy="1030.7" r="1.2" class="f"/>
<g transform="translate(242.4 1060.6)"><path class="f" d="M-2 0.6 Q0 -1 2 0.6 L3.6000000000000005 4 L4.7 16 Q5.2 18.2 7.7 19.4 L8.0 23 Q7.7 26.5 4.2 26.5 L-4.2 26.5 Q-7.7 26.5 -8.0 23 L-7.7 19.4 Q-5.2 18.2 -4.7 16 L-3.6000000000000005 4 Z"/><path d="M-3.8 23.1 Q0 24.7 3.8 23.1" fill="none" stroke="#fff" stroke-width="1.4"/><path d="M-1.3 5 h2.6" stroke="#fff" stroke-width="1" fill="none"/><path d="M-1.3 9.4 h2.6" stroke="#fff" stroke-width="1" fill="none"/><path d="M-1.3 13.8 h2.6" stroke="#fff" stroke-width="1" fill="none"/></g>
<g transform="translate(268.2 1086.2)"><path class="f" d="M-2 0.6 Q0 -1 2 0.6 L3.6000000000000005 4 L4.7 16 Q5.2 18.2 7.7 19.4 L8.0 23 Q7.7 26.5 4.2 26.5 L-4.2 26.5 Q-7.7 26.5 -8.0 23 L-7.7 19.4 Q-5.2 18.2 -4.7 16 L-3.6000000000000005 4 Z"/><path d="M-3.8 23.1 Q0 24.7 3.8 23.1" fill="none" stroke="#fff" stroke-width="1.4"/><path d="M-1.3 5 h2.6" stroke="#fff" stroke-width="1" fill="none"/><path d="M-1.3 9.4 h2.6" stroke="#fff" stroke-width="1" fill="none"/><path d="M-1.3 13.8 h2.6" stroke="#fff" stroke-width="1" fill="none"/></g>
<path class="f" d="M312.8 1015.2 C313.3 1014.9 316.8 1013.1 317.6 1013.2 C318.4 1013.2 320.3 1015.1 320.7 1016 C321.1 1016.8 321.1 1020.7 321.5 1021.5 C322 1022.3 325.1 1023.3 325.5 1023.9 C325.9 1024.6 325.9 1027.1 325.5 1027.9 C325.1 1028.7 322 1031.1 321.5 1031.9 C321.1 1032.7 321.4 1035.3 320.7 1035.9 C320.1 1036.5 316.1 1038.3 315.2 1038.3 C314.2 1038.3 312 1036.2 311.2 1035.9 C310.3 1035.6 307.2 1035.7 306.4 1035.1 C305.5 1034.5 303.2 1031.4 302.8 1030.3 C302.4 1029.2 302.1 1024.8 302.4 1023.9 C302.7 1023.1 304.6 1021.9 305.6 1021.5 C306.5 1021.1 311.3 1020.5 312 1019.9 C312.6 1019.4 312.3 1016.4 312.4 1016 C312.4 1015.5 312.2 1015.4 312.8 1015.2 Z" />
<path d="M306.4 1026.7 L310.8 1026.3 L310 1031.5 L307.6 1031.9 Z" fill="#fff"/>
<path d="M313.2 1025.9 L316.8 1025.4 L317.2 1028.7 L314 1029.1 Z" fill="#fff"/>
<path d="M316.8 1017.2 L316.8 1022.3" fill="none" stroke-linecap="round" stroke-linejoin="round" stroke="#fff" stroke-width="1.8"/>
<path d="M314.8 1031.9 L317.6 1031.5" fill="none" stroke-linecap="round" stroke-linejoin="round" stroke="#fff" stroke-width="1.4"/>
<path class="f" d="M305.6 1038.3 L312.8 1038.3 L314 1044.7 L314.8 1054.3 L312 1059 L307.2 1059.4 L302.8 1055.1 L304 1044.7 Z" />
<path d="M306.5 1053.1 L311.2 1053.1" fill="none" stroke-linecap="round" stroke-linejoin="round" stroke="#fff" stroke-width="1.6"/>
<circle cx="309.6" cy="1045.6" r="0.9" fill="#fff"/>
<path class="k k" d="M336.4 1094.6 C336.7 1093 339.4 1090.4 340.4 1089.8 C341.3 1089.3 345 1088.9 346 1089 C346.9 1089.2 349.1 1091.5 349.9 1091.4 C350.7 1091.4 352.4 1088.9 353.9 1088.2 C355.5 1087.6 363.4 1084.7 365.1 1084.7 C366.9 1084.6 370.2 1086.8 371.5 1087.4 C372.8 1088 377.1 1090 377.9 1090.6 C378.7 1091.3 379.5 1093.1 379.5 1093.8 C379.5 1094.5 378.6 1097.1 377.9 1097.8 C377.2 1098.5 372.1 1100.2 372.3 1101 C372.4 1101.8 378.3 1104.9 379.5 1105.8 C380.7 1106.7 383.5 1108.9 384.3 1109.8 C385 1110.7 386.7 1113.1 387 1114.6 C387.4 1116 387.6 1122.7 387.4 1124.1 C387.2 1125.6 386.3 1128.2 385.1 1128.9 C383.8 1129.7 376.2 1131.3 374.7 1131.3 C373.2 1131.3 371 1129.2 369.9 1128.9 C368.8 1128.7 364.7 1128.9 363.5 1128.9 C362.3 1129 359 1129.7 357.9 1129.3 C356.8 1129 353.1 1126.8 352.3 1125.7 C351.6 1124.7 351.4 1119.6 350.7 1118.6 C350.1 1117.5 347.1 1116.2 346 1115.4 C344.8 1114.5 340.5 1110.7 339.6 1109.8 C338.7 1108.8 337.1 1107.3 336.8 1105.8 C336.5 1104.3 336 1096.2 336.4 1094.6 Z" stroke-width="3.57"/>
<path class="k k25" d="M342 1096.2 C343.6 1097.2 351.1 1101.7 353.9 1103.4 C356.8 1105.1 361.2 1107.6 363.5 1109 C365.9 1110.4 369.8 1112.5 371.5 1113.8 C373.2 1115.1 375.4 1117 376.3 1118.6 C377.1 1120.2 377.7 1124.8 377.9 1125.7" />
<path class="k k25" d="M364.3 1103.8 C365.7 1104.7 372.6 1108.6 374.7 1110.2 C376.8 1111.8 379.3 1113.7 380.3 1115.8 C381.2 1117.8 381.5 1124.4 381.7 1125.7" />
<path class="k k2" d="M366.7 1102.2 C368.2 1103.1 375.6 1107.3 377.9 1109 C380.2 1110.6 382.9 1112.3 383.9 1114.6 C384.8 1116.8 384.8 1124.3 384.9 1125.7" />
<path class="k k25" d="M352.3 1120.2 C353 1120.8 355.6 1124.2 357.1 1124.9 C358.6 1125.7 362.7 1125.6 363.5 1125.7" />
<path class="f" d="M353.9 1089.8 C355.1 1088.7 363.4 1086 365.1 1085.9 C366.9 1085.7 370.3 1087.7 371.5 1088.2 C372.7 1088.8 376.8 1090.9 377.5 1091.4 C378.2 1092 378.4 1093.2 378.3 1093.8 C378.2 1094.4 377.4 1096.7 376.7 1097.4 C376 1098.1 372.8 1100.1 371.5 1100.6 C370.2 1101.1 364.9 1102.2 363.5 1102.2 C362.1 1102.2 358.1 1101.5 357.1 1101 C356.1 1100.5 353.9 1098.1 353.5 1097 C353.2 1095.9 352.8 1091 353.9 1089.8 Z" />
<path d="M362.3 1089 C362.6 1088.5 365.3 1088.2 365.9 1088.4 C366.5 1088.6 367.3 1090.9 367.9 1091 C368.5 1091.2 371.1 1089.8 371.9 1090 C372.6 1090.2 375.2 1092.4 375.5 1093 C375.8 1093.6 375.8 1095.6 375.1 1096.1 C374.4 1096.5 369.5 1097.7 368.3 1097.4 C367.1 1097.2 363.3 1094.3 362.7 1093.4 C362.1 1092.6 362 1089.5 362.3 1089 Z" fill="#fff"/>
<path class="k k2" d="M360.3 1093.4 C361 1093.6 364.1 1094.5 365.1 1095 C366.1 1095.5 366.4 1097 367.5 1097 C368.6 1097 372.3 1095.3 373.1 1095" />
<path class="k k2" d="M365.1 1089.4 L367.5 1093 L370.7 1091.3" />
<path d="M359.1 1099.3 L363.9 1099.3" fill="none" stroke-linecap="round" stroke-linejoin="round" stroke="#fff" stroke-width="1.6"/>
<circle cx="356.3" cy="1091.6" r="1" fill="#fff"/>
<path class="k k" d="M387.4 1082.7 C387.6 1081.9 389.5 1079.9 390.6 1079.5 C391.8 1079 397.1 1078 398.6 1077.9 C400.1 1077.8 404.7 1077.9 405.8 1078.3 C406.9 1078.7 408.9 1081.5 409.8 1081.9 C410.7 1082.3 413.9 1081.9 414.6 1082.3 C415.3 1082.6 416.8 1084.3 417 1085.1 C417.2 1085.8 417.3 1089 416.6 1089.8 C415.9 1090.6 411.3 1092.6 409.8 1093 C408.3 1093.5 403.2 1094.8 401.8 1094.6 C400.4 1094.5 396.7 1092.2 395.4 1091.4 C394.1 1090.7 389.8 1088.3 389 1087.4 C388.2 1086.6 387.3 1083.5 387.4 1082.7 Z" stroke-width="3.57"/>
<path class="k k2" d="M391.4 1085.1 C392.1 1084.6 394.8 1082.4 396.2 1081.9 C397.6 1081.3 400.5 1080.9 401.8 1081.1 C403.1 1081.3 405.4 1082.7 405.8 1083.5 C406.2 1084.2 405.1 1086.2 405 1086.6" />
<path class="k k2" d="M391.8 1085.5 C392.6 1085.7 396.3 1086.6 397.8 1087.4 C399.4 1088.2 401.8 1091.1 403.4 1091.4 C405 1091.8 408.4 1090.8 409.8 1090.2 C411.2 1089.7 413.2 1087.5 413.8 1087" />
<path class="k k2" d="M397.8 1083.1 C398.4 1083.3 401 1084.4 401.8 1085.1 C402.7 1085.7 403.9 1087.5 404.2 1087.8" />
<path class="k k2" d="M378.7 1089.8 C379.3 1089.5 381.5 1088.8 382.3 1087.8 C383 1086.9 383.1 1084.9 383.3 1084.3" />
<path class="k k2" d="M383.3 1074.7 L383.3 1081.1" />
<path class="k k2" d="M382.3 1060.3 L383.1 1068.3" />
<path class="k k2" d="M382.3 1048.4 L382.8 1054.7" />
<path class="k k2" d="M382.3 1044.8 L387.4 1044.8" />
<path class="k k2" d="M392.2 1043.2 L396.2 1041.6" />
<path class="k k25" d="M400.6 1040 C400.9 1040 404 1039.7 404.2 1040.2 C404.4 1040.7 404.2 1046.7 404.2 1047.2" />
<g transform="translate(403.8 1048.8)"><path class="f" d="M-3.6 1 L3.6 1 L4.4 13.9 L8 15.4 L9 17.9 L8 24.9 L5.5 27.9 L-5.5 27.9 L-8 24.9 L-9 17.9 L-8 15.4 L-4.4 13.9 Z"/><path d="M-3 23.4 L3 23.4" stroke="#fff" stroke-width="1.3" fill="none"/><circle cx="-2.6" cy="19.9" r="0.7" fill="#fff"/><circle cx="2.6" cy="19.9" r="0.7" fill="#fff"/><circle cx="0" cy="4" r="0.7" fill="#fff"/><circle cx="0" cy="7.8" r="0.7" fill="#fff"/><circle cx="0" cy="11.6" r="0.7" fill="#fff"/></g>
<g transform="translate(429.7 1050.3)"><path class="f" d="M-3.6 1 L3.6 1 L4.4 14.5 L8 16 L9 18.5 L8 25.5 L5.5 28.5 L-5.5 28.5 L-8 25.5 L-9 18.5 L-8 16 L-4.4 14.5 Z"/><path d="M-3 24 L3 24" stroke="#fff" stroke-width="1.3" fill="none"/><circle cx="-2.6" cy="20.5" r="0.7" fill="#fff"/><circle cx="2.6" cy="20.5" r="0.7" fill="#fff"/><circle cx="0" cy="4" r="0.7" fill="#fff"/><circle cx="0" cy="7.8" r="0.7" fill="#fff"/><circle cx="0" cy="11.6" r="0.7" fill="#fff"/></g>
<path class="k k" d="M442.4 1172.7 C441.3 1172.1 436.1 1169.5 433.2 1167.9 C430.2 1166.3 420.9 1161.2 417.1 1159 C413.4 1156.9 403.4 1151.1 401.1 1149.4 C398.7 1147.7 397.8 1146.4 397 1144.6 C396.3 1142.8 394.9 1136.8 394.6 1134.1 C394.4 1131.5 394.4 1124.3 394.6 1122.1 C394.8 1120 395.5 1116.9 396.2 1115.7 C397 1114.5 399.6 1112.4 401.1 1112.1 C402.5 1111.7 406.9 1112.4 408.3 1112.9 C409.7 1113.4 412.6 1115.5 413.1 1116.5 C413.6 1117.5 411.8 1120.2 412.3 1121.3 C412.8 1122.4 416.2 1126 417.1 1126.1 C418 1126.2 419.4 1122.7 420.3 1122.1 C421.3 1121.5 422.7 1120 425.1 1120.9 C427.6 1121.8 437.4 1128 441.2 1130.1 C444.9 1132.2 454.1 1137.2 457.2 1139 C460.4 1140.7 467.2 1144.6 468.5 1145.4" stroke-width="3.57"/>
<path class="k k" d="M444.4 1176.7 C445 1176.5 447.9 1175.2 449.2 1175.1 C450.5 1174.9 454.7 1174.9 455.6 1175.5 C456.6 1176 456.7 1178.9 457.6 1179.9 C458.6 1180.9 462.5 1183.1 463.7 1183.9 C464.8 1184.8 466.6 1186.9 467.7 1187.1 C468.8 1187.3 472.3 1185.9 473.3 1185.5 C474.3 1185.1 476.3 1184.7 476.5 1183.9 C476.7 1183.2 475.1 1179.7 474.9 1179.1" stroke-width="3.57"/>
<path class="f" d="M444 1176.7 L446.8 1174.3 L455.6 1174.3 L455.6 1176.3 L450.8 1177.5 Z" />
<path class="k k25" d="M469.3 1162.2 C469.2 1163 469.8 1169.1 468.9 1170.3 C468 1171.4 461.3 1173.5 460.5 1173.9" />
<path class="f" d="M468.5 1142.2 C468.9 1140.8 472.4 1135.6 473.3 1134.9 C474.2 1134.3 478.2 1133.9 478.9 1134.1 C479.6 1134.4 480.8 1137.2 481.3 1138.2 C481.9 1139.1 485 1144.4 485.3 1145.4 C485.6 1146.3 485.2 1148.9 484.9 1149.4 C484.6 1149.9 482.3 1151.2 481.7 1151.8 C481.2 1152.4 479.2 1156.2 478.1 1156.6 C477 1157 469.3 1157.1 468.5 1156.6 C467.7 1156.2 468.5 1152.2 468.5 1151 C468.5 1149.8 468.1 1143.5 468.5 1142.2 Z" />
<path d="M475.7 1139.4 L476.1 1143.4" fill="none" stroke-linecap="round" stroke-linejoin="round" stroke="#fff" stroke-width="1.6"/>
<path d="M470.1 1143.8 C470.8 1144.3 472.5 1146.6 474.1 1147 C475.7 1147.4 478.8 1146.3 479.7 1146.2" fill="none" stroke-linecap="round" stroke-linejoin="round" stroke="#fff" stroke-width="1.6"/>
<path d="M471.3 1151.4 L477.3 1151.4 L477.3 1153.4 L471.3 1153.4 Z" fill="#fff"/>
<path class="k k" d="M480.5 1154.2 L480.7 1178.3" stroke-width="4.20"/>
<path class="k k2" d="M479.6 1180.3 L479.9 1186.3 M479.3 1190.3 L479.6 1196" />
<path class="k k2" d="M419.5 1187.9 C419.7 1187.1 419.5 1184.3 420.7 1183.1 C421.9 1181.9 425.7 1181.1 426.7 1180.7 M432.4 1180.5 L440.4 1177.5" />
<path class="f" d="M460.1 1100.4 C460.9 1099.2 468.1 1098.7 469.3 1098 C470.4 1097.3 471 1093.8 471.7 1093.2 C472.3 1092.6 475.2 1091.9 475.7 1092.4 C476.2 1092.9 476.4 1097.1 476.9 1098 C477.4 1099 480.2 1101.1 480.5 1102 C480.9 1103 480.8 1106.5 480.5 1107.7 C480.2 1108.9 478.2 1113 477.3 1114.1 C476.4 1115.1 473 1117.9 471.7 1118.1 C470.4 1118.3 465.6 1116.5 464.5 1115.7 C463.3 1114.9 460.9 1111.6 460.5 1110.1 C460 1108.5 459.2 1101.6 460.1 1100.4 Z" />
<path d="M464.1 1102.8 L468.5 1102 L472.5 1096.4 L470.9 1102.8 L467.7 1106.1 L465.3 1108.5 Z" fill="#fff"/>
<path d="M468.5 1110.1 L471.3 1109.3 L471.7 1114.1 L469.3 1113.3 Z" fill="#fff"/>
<path d="M473.3 1103.6 L476.1 1103.2 L475.7 1106.1 L473.3 1106.5 Z" fill="#fff"/>
<path class="f" d="M461.3 1119.7 C461.6 1118.8 464 1117.3 464.5 1117.3 C465 1117.3 467 1118.8 467.3 1119.7 C467.5 1120.6 467.5 1127.6 467.7 1128.5 C467.9 1129.5 469.5 1130.4 469.7 1130.9 C469.8 1131.5 469.6 1134.3 469.3 1134.9 C469 1135.6 466.8 1137.9 466.1 1138.2 C465.3 1138.4 461.3 1138.5 460.5 1138.2 C459.6 1137.9 456.7 1135.2 456.4 1134.5 C456.1 1133.9 456.5 1131.4 456.8 1130.9 C457.1 1130.4 459.7 1129.5 460.1 1128.5 C460.4 1127.6 460.9 1120.6 461.3 1119.7 Z" />
<path d="M460.9 1131.3 L465.7 1131.3 L465.7 1133.7 L460.9 1133.7 Z" fill="#fff"/>
<g transform="translate(420.5 1191.9)"><path class="f" d="M-2 0.6 Q0 -1 2 0.6 L3.6000000000000005 4 L4.7 15.3 Q5.2 17.5 7.7 18.7 L8.0 22.3 Q7.7 25.8 4.2 25.8 L-4.2 25.8 Q-7.7 25.8 -8.0 22.3 L-7.7 18.7 Q-5.2 17.5 -4.7 15.3 L-3.6000000000000005 4 Z"/><path d="M-3.8 22.4 Q0 24 3.8 22.4" fill="none" stroke="#fff" stroke-width="1.4"/><path d="M-1.3 5 h2.6" stroke="#fff" stroke-width="1" fill="none"/><path d="M-1.3 9.4 h2.6" stroke="#fff" stroke-width="1" fill="none"/><path d="M-1.3 13.8 h2.6" stroke="#fff" stroke-width="1" fill="none"/></g>
<g transform="translate(480.1 1198.4)"><path class="f" d="M-2 0.6 Q0 -1 2 0.6 L3.6000000000000005 4 L4.7 16.1 Q5.2 18.3 7.7 19.5 L8.0 23.1 Q7.7 26.6 4.2 26.6 L-4.2 26.6 Q-7.7 26.6 -8.0 23.1 L-7.7 19.5 Q-5.2 18.3 -4.7 16.1 L-3.6000000000000005 4 Z"/><path d="M-3.8 23.2 Q0 24.8 3.8 23.2" fill="none" stroke="#fff" stroke-width="1.4"/><path d="M-1.3 5 h2.6" stroke="#fff" stroke-width="1" fill="none"/><path d="M-1.3 9.4 h2.6" stroke="#fff" stroke-width="1" fill="none"/><path d="M-1.3 13.8 h2.6" stroke="#fff" stroke-width="1" fill="none"/></g>
</g>

<!-- 21_right.svg -->
<g>
<path class="k k" d="M760 912.3 C760.2 911.1 761.5 910 763.3 909.3 C765.1 908.6 775.1 906 777.9 905.6 C780.7 905.3 788.7 905 791.2 905.6 C793.8 906.2 800.7 910.3 803.2 911.6 C805.7 913 814 917.5 816.5 918.9 C819 920.4 827.2 924.8 828.5 926.2 C829.7 927.7 829.3 932.4 828.8 933.6 C828.3 934.7 825 936.8 823.1 937.6 C821.2 938.3 812.4 940.4 809.8 940.9 C807.3 941.4 799.9 942.9 797.9 942.5 C795.9 942.2 792 938.8 789.9 937.6 C787.8 936.3 779 930.9 776.6 929.6 C774.2 928.2 767.6 925.1 766 924.3 C764.4 923.5 761.2 922.8 760.6 921.6 C760 920.4 759.7 913.5 760 912.3 Z" stroke-width="3.57"/>
<path class="k k2" d="M787.2 909.3 C788.6 910 800.1 916.1 803.2 917.6 C806.2 919.2 822.7 926.6 823.8 927.9 C824.9 929.2 818.7 932 816.5 932.9 C814.3 933.8 799.4 937.8 797.9 938.2" />
<path class="f" d="M771.9 912.6 C773.5 912.1 782.1 910.2 784.6 910.6 C787 911.1 794 916 796.5 916.9 C799.1 917.9 807.8 919.3 809.8 920.3 C811.8 921.3 815.8 925.7 816.5 926.9 C817.2 928.1 818.2 931.4 817.2 932.2 C816.2 933 808.6 935 806.5 934.9 C804.5 934.8 798.7 932 796.5 930.9 C794.3 929.8 786.8 925.4 784.6 924.3 C782.4 923.1 776.1 920.5 774.6 919.6 C773.1 918.7 769.5 916.3 769.3 915.6 C769 914.9 770.4 913.1 771.9 912.6 Z" />
<path class="f" d="M763.3 916.9 L769.9 914.9 L771.9 922.9 L766.6 923.6 Z" />
<path d="M781.2 915.3 L787.2 914.3 L786.2 919.3 L782.6 918.3 Z" fill="#fff"/>
<path d="M790.9 917.3 L795.9 916.9 L794.2 920.3 Z" fill="#fff"/>
<path d="M802.9 923.6 L811.8 928.2 L810.2 932.2 L807.2 930.9 L803.2 926.2 Z" fill="#fff"/>
<path d="M775.9 914.9 L779.3 914.3 L778.6 917.6 Z" fill="#fff"/>
<path d="M795.9 924.9 L799.2 926.2 L797.9 930.9 L795.2 928.2 Z" fill="#fff"/>
<path d="M787.2 921.6 L789.9 922.9 L788.6 924.9 Z" fill="#fff"/>
<path class="k k2" d="M772.6 925.6 L783.2 930.9 M786.6 929.6 L791.2 929.6 M809.8 933.6 L819.1 934.2" />
<g transform="translate(766.4 928.2)"><path class="f" d="M-3.6 1 L3.6 1 L4.4 11.6 L8 13.1 L9 15.6 L8 22.6 L5.5 25.6 L-5.5 25.6 L-8 22.6 L-9 15.6 L-8 13.1 L-4.4 11.6 Z"/><path d="M-3 21.1 L3 21.1" stroke="#fff" stroke-width="1.3" fill="none"/><circle cx="-2.6" cy="17.6" r="0.7" fill="#fff"/><circle cx="2.6" cy="17.6" r="0.7" fill="#fff"/><circle cx="0" cy="4" r="0.7" fill="#fff"/><circle cx="0" cy="7.8" r="0.7" fill="#fff"/></g>
<g transform="translate(812.3 944.2)"><path class="f" d="M-3.6 1 L3.6 1 L4.4 11.6 L8 13.1 L9 15.6 L8 22.6 L5.5 25.6 L-5.5 25.6 L-8 22.6 L-9 15.6 L-8 13.1 L-4.4 11.6 Z"/><path d="M-3 21.1 L3 21.1" stroke="#fff" stroke-width="1.3" fill="none"/><circle cx="-2.6" cy="17.6" r="0.7" fill="#fff"/><circle cx="2.6" cy="17.6" r="0.7" fill="#fff"/><circle cx="0" cy="4" r="0.7" fill="#fff"/><circle cx="0" cy="7.8" r="0.7" fill="#fff"/></g>
<path class="k k" d="M765.3 976.8 C765.6 976 767.4 972.9 768.6 972.1 C769.9 971.3 775.8 969.4 777.9 968.8 C780.1 968.2 788 966.1 789.9 966.1 C791.8 966.1 794.5 967.8 796.5 968.8 C798.5 969.8 807.3 974.7 809.8 976.1 C812.4 977.6 820.5 982.2 821.8 983.4 C823.1 984.6 822.7 987.2 822.5 988.1 C822.2 989 820.4 991.9 819.1 992.7 C817.9 993.6 811.7 996.1 809.8 996.7 C808 997.4 802 999.1 800.5 999.4 C799.1 999.7 796.9 1000.1 795.2 999.4 C793.5 998.7 785.8 993.7 783.2 992.1 C780.7 990.5 771.7 984.6 769.9 983.4 C768.2 982.2 766.4 980.8 766 980.1 C765.5 979.4 765 977.6 765.3 976.8 Z" stroke-width="3.46"/>
<path class="k k2" d="M772.3 976.8 L777.9 977.4 M783.9 977.8 L787.9 977.8" />
<path class="k k2" d="M772.3 977.1 C773.4 977.8 780.8 982.7 783.2 984.1 C785.7 985.5 794.4 990.1 796.5 990.7 C798.7 991.4 803.2 990.9 804.5 990.7 C805.9 990.5 808.6 989.1 809.8 988.8 C811 988.4 815.8 987 816.5 986.8" />
<path class="k k2" d="M790.2 973.5 C790.5 973.8 791.9 975.9 793.2 976.8 C794.5 977.6 801.5 981.1 803.2 982.1 C804.9 983.1 809.2 986.6 809.8 987.1" />
<path class="k k2" d="M784.2 980.8 L787.6 978.1" />
<path class="k k2" d="M796.7 994.1 L796.9 996.4" />
<path class="k k" d="M941.8 1033.6 C941.8 1032.5 942.2 1028.8 942.9 1028 C943.6 1027.1 945.7 1025.9 948.6 1025.1 C951.4 1024.4 967.7 1021.1 971.2 1020.6 C974.7 1020.2 981.9 1020.2 983.6 1020.6 C985.4 1021 987.7 1023 988.7 1024.6 C989.7 1026.1 992.4 1031.9 993.8 1035.9 C995.2 1039.8 1001 1057.9 1002.8 1064.1 C1004.6 1070.3 1010.5 1092.4 1011.9 1098 C1013.2 1103.7 1015.4 1117.5 1016.4 1120.6 C1017.4 1123.8 1021.5 1128 1022 1129.7 C1022.5 1131.4 1022.3 1136.5 1021.5 1137.6 C1020.7 1138.7 1017.1 1140.1 1014.1 1141 C1011.1 1141.9 994.6 1145.9 991.5 1146.6 C988.5 1147.4 984.7 1148.7 983.6 1148.3 C982.5 1148 980.9 1145.4 980.2 1143.2 C979.5 1141 977.7 1130.8 976.8 1126.3 C975.9 1121.8 972.4 1103.7 971.2 1098 C969.9 1092.4 965.5 1074.3 964.4 1069.8 C963.3 1065.3 960.7 1055.2 959.9 1052.8 C959.1 1050.4 957.3 1046.9 956.5 1046 C955.7 1045.1 953 1044 952 1043.8 C950.9 1043.6 947.3 1044.2 946.3 1043.8 C945.3 1043.3 942.8 1040.3 942.3 1039.3 C941.9 1038.2 941.7 1034.7 941.8 1033.6 Z" stroke-width="3.26"/>
<path class="k k2" d="M945.7 1033.6 L984.7 1024.8" />
<path class="k k2" d="M946.3 1034.7 L950.3 1038.7" />
<path class="k k25" d="M949.7 1039.3 C950.7 1039.5 957 1040.5 958.7 1041.5 C960.5 1042.6 963.2 1045.7 964.4 1048.3 C965.6 1050.9 967.5 1058.3 968.9 1064.1 C970.4 1069.9 975.2 1090.8 976.8 1098 C978.4 1105.3 981.4 1121 982.5 1126.3 C983.5 1131.6 985.5 1141.3 985.9 1143.2" />
<path class="k k2" d="M962.7 1044.9 C963.3 1046.4 966.4 1052.5 967.8 1057.3 C969.2 1062.2 973.1 1080 974.6 1086.7 C976 1093.5 979 1109.3 980.2 1115 C981.4 1120.7 984.2 1133 984.7 1135.3" />
<path class="k k25" d="M990.4 1043.8 C989.7 1043.6 986.4 1042.1 984.7 1042.1 C983 1042.1 977.1 1043.1 975.7 1043.8 C974.2 1044.5 972.6 1047 972.3 1048.3 C972 1049.6 972.5 1051.3 973.4 1055.1 C974.4 1058.9 978.8 1075.4 980.2 1081.1 C981.7 1086.7 984.8 1099.7 985.9 1103.7 C986.9 1107.6 988.7 1113.1 989.3 1115 C989.8 1116.8 990 1118.8 990.6 1119.5 C991.3 1120.2 993.2 1121 994.9 1120.6 C996.6 1120.3 1003.9 1117.1 1005.1 1116.7" />
<path class="k k2" d="M984.7 1042.6 C985.1 1043.8 986.9 1048.3 988.1 1052.8 C989.3 1057.3 993.5 1075.1 994.9 1081.1 C996.4 1087 999.8 1100.3 1000.6 1103.7 C1001.3 1107.1 1001.7 1109.3 1001.1 1110.5 C1000.6 1111.7 997.3 1113.5 996 1113.9 C994.8 1114.3 991.3 1114.4 990.4 1113.9 C989.5 1113.3 988.4 1109.9 988.1 1109.3" />
<path class="k k25" d="M979.1 1064.1 C979.3 1063.3 980.6 1062.1 981.3 1061.9 C982.1 1061.6 985.1 1061.5 985.9 1061.9 C986.7 1062.3 987.5 1063 988.1 1065.3 C988.8 1067.5 990.9 1077.8 991.5 1081.1 C992.2 1084.4 993.4 1091.4 993.8 1093.5 C994.1 1095.6 994.9 1098.4 994.3 1099.2 C993.8 1100 990.2 1100.6 989.3 1100.3 C988.3 1100 986.7 1099.1 985.9 1096.9 C985.1 1094.7 983.2 1084.4 982.5 1081.1 C981.7 1077.8 980 1070.6 979.6 1068.6 C979.3 1066.7 978.9 1064.9 979.1 1064.1 Z" />
<path class="k k2" d="M981.6 1067.5 C981.8 1067.4 983.3 1064.9 983.8 1066.6 C984.4 1068.3 985.6 1078.7 986.1 1082.2 C986.6 1085.7 988.1 1094.7 988.4 1096.3" />
<path class="k k2" d="M989.3 1066.4 C989.7 1068.2 993.1 1081.3 993.8 1084.5 C994.5 1087.6 995.8 1096.2 996 1098 C996.3 1099.8 996.8 1102 996 1102.6 C995.2 1103.1 988.9 1103.6 988.1 1103.7" />
<g transform="translate(1032 1007) rotate(192) scale(1.1)"><path class="f" d="M0 -3.5999999999999996 Q-2.4 0 0 3.5999999999999996 L1.4 4.3999999999999995 L13 4.6 L13.5 7 Q15 8.2 16.5 7.4 Q23 8 26 4.8 Q28.2 0 26 -4.8 Q23 -8 16.5 -7.4 Q15 -8.2 13.5 -7 L13 -4.6 L1.4 -4.3999999999999995 Z"/><path d="M2.6 0.4 l1.4 -1.6" stroke="#fff" stroke-width="1.1" fill="none"/><path d="M6 0.4 l1.4 -1.6" stroke="#fff" stroke-width="1.1" fill="none"/><path d="M9.4 0.4 l1.4 -1.6" stroke="#fff" stroke-width="1.1" fill="none"/><path d="M16.4 -5 Q14.2 0 16.4 5" fill="none" stroke="#fff" stroke-width="1.1"/><path d="M21 -2.6 L24 -2 Q25 0.4 23.6 3 L21 2.6 Q20.2 0 21 -2.6Z" fill="#fff"/><circle cx="18.8" cy="-3.6" r="0.9" fill="#fff"/><circle cx="18.6" cy="3.4" r="0.8" fill="#fff"/></g>
<path class="k k" d="M1041.2 1033.6 C1040.9 1033.2 1038.7 1031.5 1037.9 1030.2 C1037.1 1028.9 1034.7 1024.5 1034.5 1022.3 C1034.2 1020.1 1034.7 1013.2 1035.6 1011 C1036.5 1008.8 1040.4 1004.8 1042.4 1003.7 C1044.4 1002.5 1050.6 1001.2 1052.6 1001.4 C1054.5 1001.6 1058.1 1004 1059.3 1005.3 C1060.5 1006.7 1062.1 1011.3 1062.7 1013.3 C1063.3 1015.2 1064.3 1020.6 1064.4 1022.3 C1064.6 1024 1064.4 1026.8 1063.9 1028 C1063.3 1029.1 1060.1 1031.4 1059.3 1032.5 C1058.6 1033.5 1057.8 1036.5 1057.6 1037" stroke-width="3.26"/>
<circle cx="1052.8" cy="1013.5" r="4" class="k k25"/>
<path class="k k2" d="M1054.8 1011.6 C1054.4 1011.7 1052.3 1012.1 1052 1012.7 C1051.7 1013.3 1052.5 1015.6 1052.6 1016.1" />
<path class="k k2" d="M1039 1014.6 L1043.5 1014.2 L1044.1 1018.9 L1039.6 1019.5 Z" />
<path class="k k25" d="M1043.5 1024.6 C1044.4 1024.4 1049.6 1023.4 1051.4 1022.9 C1053.3 1022.4 1058.1 1020.2 1059.3 1020.3 C1060.6 1020.3 1061.8 1023.1 1062.2 1023.4" />
<path class="k k2" d="M1048 1007 L1053.7 1005.9" />
<path class="k k2" d="M1040.1 1026.8 C1040.3 1027.3 1041.4 1030.4 1041.8 1031.3 C1042.3 1032.3 1043.8 1034.3 1044.1 1034.7" />
<path class="k k2" d="M1046.3 1026.8 L1057.1 1024" />
<path class="k k" d="M1041.8 1033.6 L1023.2 1087.9" stroke-width="3.26"/>
<path class="k k2" d="M1044.1 1034.7 L1035.6 1091.2" />
<path class="k k25" d="M1046.3 1032.5 L1040.7 1092.4" />
<path class="k k" d="M1058.2 1033.6 L1053.7 1094.1" stroke-width="3.26"/>
<path class="k k2" d="M1035.6 1091.2 L1040.7 1084.5" />
<path class="k k2" d="M1070.6 1020 L1080.8 1022.9" />
<path class="k k2" d="M1089.9 1027.7 L1093.2 1028.6" />
<path class="k k2" d="M1073.5 1035.9 L1083.1 1033" />
<path class="k k2" d="M1059.3 1039.3 L1066.7 1038.1" />
<path class="k k2" d="M1036.7 1045.1 L1049.2 1043.2" />
<path class="k k2" d="M1024.3 1050 L1034.5 1047.5" />
<path class="k k2" d="M1005.1 1054.5 L1017.5 1051.1" />
<path class="k k2" d="M954.8 1068.1 L962.7 1066.9" />
<path class="k k2" d="M955.3 1074.9 L965.5 1077.7" />
<path class="f" d="M1091 1026.3 L1100.3 1029.3 L1090.4 1032.2 L1093.2 1029.3 Z" />
<path class="f" d="M943.8 1072 L950.3 1068.4 L949.7 1075.7 Z" />
</g>

</svg>
</body></html>
